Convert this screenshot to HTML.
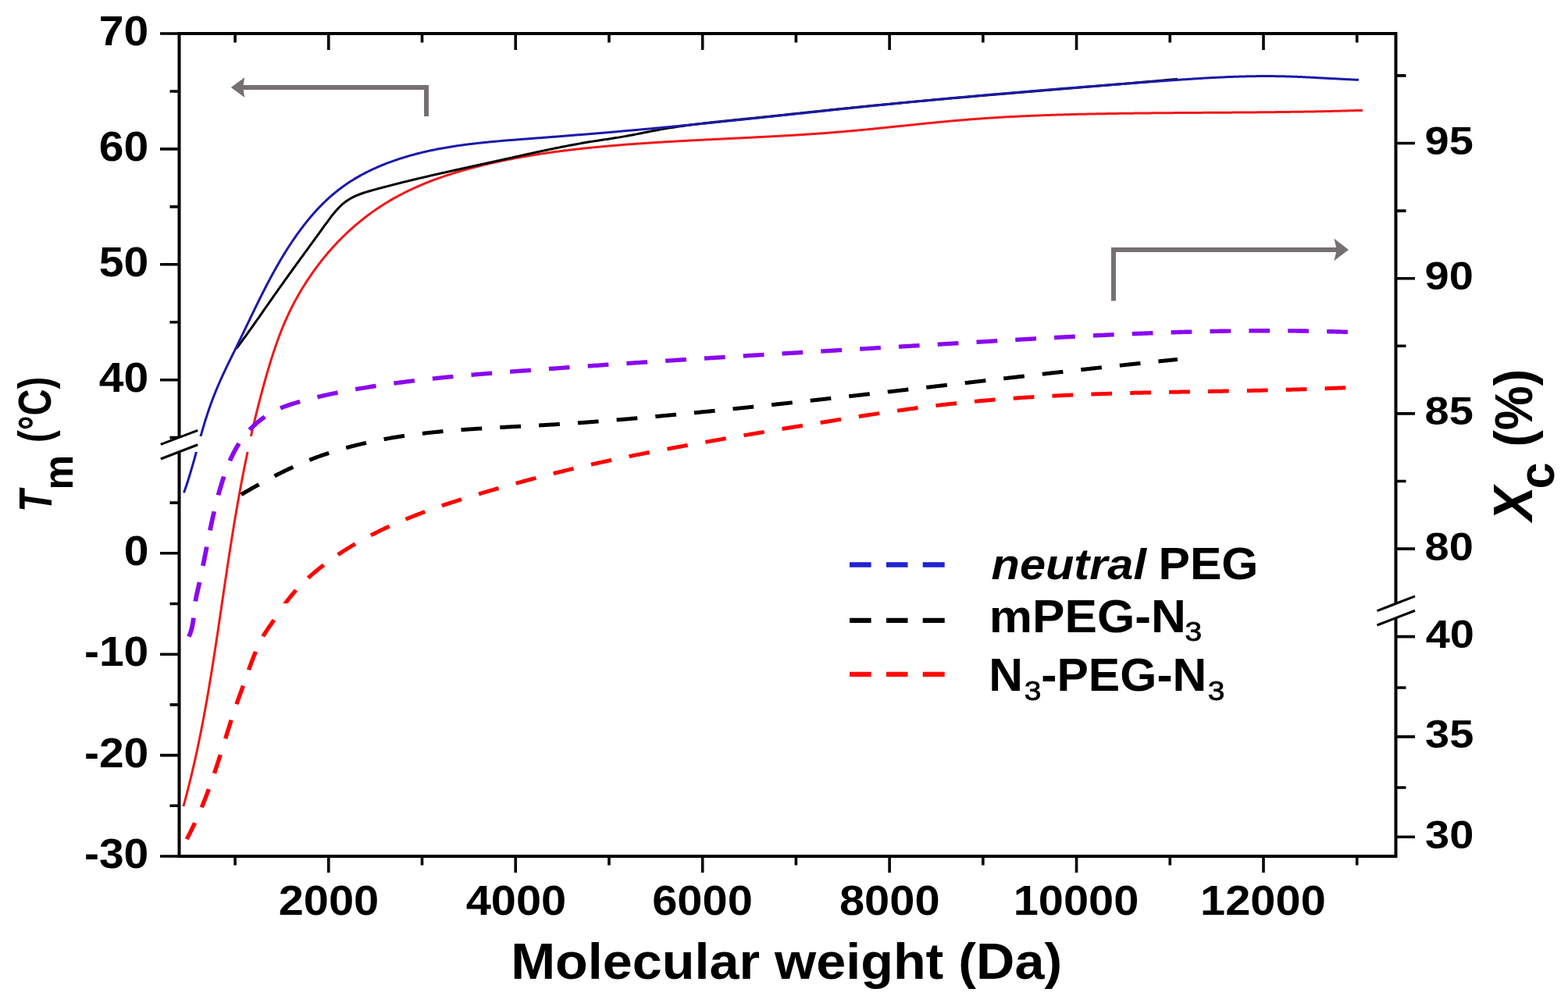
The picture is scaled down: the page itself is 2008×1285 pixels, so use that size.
<!DOCTYPE html>
<html><head><meta charset="utf-8"><title>Tm and Xc vs molecular weight</title><style>html,body{margin:0;padding:0;background:#fff;overflow:hidden;}svg{display:block;}</style></head><body>
<svg width="2008" height="1285" viewBox="0 0 2008 1285">
<rect x="0" y="0" width="2008" height="1285" fill="#fff"/>
<defs>
<clipPath id="ctm"><rect x="230.5" y="43.0" width="1556.0" height="516.0"/><rect x="230.5" y="579" width="1556.0" height="518.0"/></clipPath>
<clipPath id="cxc"><rect x="230.5" y="43.0" width="1556.0" height="730.0"/><rect x="230.5" y="791" width="1556.0" height="306.0"/></clipPath>
</defs>
<g fill="none" stroke-linejoin="round">
<g clip-path="url(#ctm)">
<path d="M234.86,1033.13 L235.27,1031.68 L235.66,1030.23 L236.06,1028.78 L236.46,1027.32 L236.85,1025.87 L237.24,1024.42 L237.63,1022.97 L238.02,1021.51 L238.40,1020.06 L238.78,1018.61 L239.16,1017.15 L239.54,1015.70 L239.92,1014.24 L240.30,1012.79 L240.67,1011.33 L241.04,1009.88 L241.41,1008.42 L241.78,1006.96 L242.14,1005.51 L242.51,1004.05 L242.87,1002.59 L243.23,1001.13 L243.59,999.68 L243.94,998.22 L244.30,996.76 L244.65,995.30 L245.00,993.84 L245.35,992.38 L245.70,990.92 L246.05,989.46 L246.39,988.00 L246.73,986.54 L247.07,985.08 L247.41,983.62 L247.75,982.16 L248.09,980.69 L248.42,979.23 L248.75,977.77 L249.08,976.31 L249.41,974.84 L249.74,973.38 L250.07,971.91 L250.39,970.45 L250.71,968.99 L251.04,967.52 L251.36,966.06 L251.67,964.59 L251.99,963.13 L252.31,961.66 L252.62,960.19 L252.93,958.73 L253.24,957.26 L253.55,955.80 L253.86,954.33 L254.17,952.86 L254.47,951.39 L254.77,949.93 L255.08,948.46 L255.38,946.99 L255.68,945.52 L255.98,944.05 L256.27,942.58 L256.57,941.11 L256.86,939.64 L257.15,938.18 L257.44,936.71 L257.73,935.23 L258.02,933.76 L258.31,932.29 L258.60,930.82 L258.88,929.35 L259.17,927.88 L259.45,926.41 L259.73,924.94 L260.01,923.47 L260.29,921.99 L260.57,920.52 L260.84,919.05 L261.12,917.58 L261.39,916.10 L261.67,914.63 L261.94,913.16 L262.21,911.68 L262.48,910.21 L262.75,908.73 L263.01,907.26 L263.28,905.79 L263.55,904.31 L263.81,902.84 L264.07,901.36 L264.34,899.89 L264.60,898.41 L264.86,896.94 L265.12,895.46 L265.37,893.98 L265.63,892.51 L265.89,891.03 L266.14,889.56 L266.40,888.08 L266.65,886.60 L266.90,885.13 L267.16,883.65 L267.41,882.17 L267.66,880.69 L267.91,879.22 L268.16,877.74 L268.40,876.26 L268.65,874.78 L268.90,873.30 L269.14,871.83 L269.38,870.35 L269.63,868.87 L269.87,867.39 L270.11,865.91 L270.35,864.43 L270.59,862.95 L270.83,861.47 L271.07,859.99 L271.31,858.52 L271.55,857.04 L271.79,855.56 L272.02,854.08 L272.26,852.60 L272.49,851.12 L272.73,849.64 L272.96,848.16 L273.20,846.67 L273.43,845.19 L273.66,843.71 L273.89,842.23 L274.12,840.75 L274.35,839.27 L274.58,837.79 L274.81,836.31 L275.04,834.83 L275.27,833.35 L275.50,831.86 L275.73,830.38 L275.95,828.90 L276.18,827.42 L276.41,825.94 L276.63,824.45 L276.86,822.97 L277.08,821.49 L277.31,820.01 L277.53,818.53 L277.75,817.04 L277.98,815.56 L278.20,814.08 L278.42,812.60 L278.65,811.11 L278.87,809.63 L279.09,808.15 L279.31,806.66 L279.53,805.18 L279.75,803.70 L279.97,802.22 L280.19,800.73 L280.41,799.25 L280.63,797.77 L280.85,796.28 L281.07,794.80 L281.29,793.32 L281.51,791.83 L281.73,790.35 L281.95,788.87 L282.17,787.38 L282.39,785.90 L282.61,784.42 L282.83,782.93 L283.04,781.45 L283.26,779.97 L283.48,778.48 L283.70,777.00 L283.92,775.51 L284.13,774.03 L284.35,772.55 L284.57,771.06 L284.79,769.58 L285.01,768.10 L285.23,766.61 L285.44,765.13 L285.66,763.64 L285.88,762.16 L286.10,760.68 L286.32,759.19 L286.54,757.71 L286.75,756.23 L286.97,754.74 L287.19,753.26 L287.41,751.77 L287.63,750.29 L287.85,748.81 L288.07,747.32 L288.29,745.84 L288.51,744.36 L288.73,742.87 L288.95,741.39 L289.17,739.90 L289.39,738.42 L289.61,736.94 L289.84,735.45 L290.06,733.97 L290.28,732.49 L290.50,731.00 L290.72,729.52 L290.95,728.04 L291.17,726.55 L291.40,725.07 L291.62,723.59 L291.84,722.10 L292.07,720.62 L292.29,719.14 L292.52,717.65 L292.75,716.17 L292.97,714.69 L293.20,713.21 L293.43,711.72 L293.66,710.24 L293.88,708.76 L294.11,707.28 L294.34,705.79 L294.57,704.31 L294.80,702.83 L295.03,701.35 L295.27,699.86 L295.50,698.38 L295.73,696.90 L295.96,695.42 L296.20,693.94 L296.43,692.45 L296.67,690.97 L296.90,689.49 L297.14,688.01 L297.38,686.53 L297.62,685.05 L297.85,683.57 L298.09,682.09 L298.33,680.60 L298.57,679.12 L298.82,677.64 L299.06,676.16 L299.30,674.68 L299.54,673.20 L299.79,671.72 L300.03,670.24 L300.28,668.76 L300.53,667.28 L300.77,665.80 L301.02,664.32 L301.27,662.84 L301.52,661.36 L301.77,659.88 L302.02,658.40 L302.28,656.93 L302.53,655.45 L302.78,653.97 L303.04,652.49 L303.29,651.01 L303.55,649.53 L303.81,648.06 L304.07,646.58 L304.33,645.10 L304.59,643.62 L304.85,642.15 L305.11,640.67 L305.37,639.19 L305.64,637.71 L305.90,636.24 L306.17,634.76 L306.44,633.29 L306.71,631.81 L306.97,630.33 L307.24,628.86 L307.52,627.38 L307.79,625.91 L308.06,624.43 L308.33,622.96 L308.61,621.48 L308.89,620.01 L309.16,618.54 L309.44,617.06 L309.72,615.59 L310.00,614.11 L310.28,612.64 L310.57,611.17 L310.85,609.70 L311.13,608.22 L311.42,606.75 L311.71,605.28 L312.00,603.81 L312.29,602.34 L312.58,600.87 L312.87,599.39 L313.16,597.92 L313.46,596.45 L313.75,594.98 L314.05,593.51 L314.35,592.04 L314.64,590.57 L314.94,589.11 L315.25,587.64 L315.55,586.17 L315.85,584.70 L316.16,583.23 L316.46,581.76 L316.77,580.30 L317.08,578.83 L317.39,577.36 L317.70,575.90 L318.01,574.43 L318.33,572.97 L318.64,571.50 L318.96,570.03 L319.28,568.57 L319.60,567.11 L319.92,565.64 L320.24,564.18 L320.57,562.71 L320.89,561.25 L321.22,559.79 L321.54,558.33 L321.87,556.86 L322.20,555.40 L322.54,553.94 L322.87,552.48 L323.20,551.02 L323.54,549.56 L323.88,548.10 L324.22,546.64 L324.56,545.18 L324.90,543.72 L325.24,542.26 L325.59,540.80 L325.93,539.34 L326.28,537.89 L326.63,536.43 L326.98,534.97 L327.34,533.52 L327.69,532.06 L328.05,530.60 L328.40,529.15 L328.76,527.69 L329.12,526.24 L329.48,524.79 L329.85,523.33 L330.21,521.88 L330.58,520.43 L330.95,518.97 L331.32,517.52 L331.69,516.07 L332.06,514.62 L332.44,513.17 L332.81,511.72 L333.19,510.27 L333.57,508.82 L333.95,507.37 L334.34,505.92 L334.72,504.47 L335.11,503.03 L335.50,501.58 L335.89,500.13 L336.28,498.69 L336.67,497.24 L337.07,495.79 L337.47,494.35 L337.86,492.91 L338.26,491.46 L338.67,490.02 L339.07,488.57 L339.48,487.13 L339.89,485.69 L340.29,484.25 L340.71,482.81 L341.12,481.37 L341.53,479.93 L341.95,478.49 L342.37,477.05 L342.79,475.61 L343.21,474.17 L343.64,472.73 L344.07,471.30 L344.49,469.86 L344.93,468.43 L345.36,466.99 L345.80,465.56 L346.24,464.12 L346.68,462.69 L347.12,461.26 L347.57,459.83 L348.02,458.40 L348.48,456.97 L348.93,455.55 L349.39,454.12 L349.85,452.70 L350.32,451.27 L350.79,449.85 L351.26,448.43 L351.74,447.01 L352.22,445.59 L352.70,444.18 L353.19,442.76 L353.68,441.35 L354.18,439.94 L354.68,438.53 L355.18,437.12 L355.69,435.71 L356.20,434.31 L356.72,432.90 L357.24,431.50 L357.76,430.10 L358.29,428.70 L358.83,427.30 L359.37,425.91 L359.91,424.52 L360.46,423.13 L361.02,421.74 L361.57,420.35 L362.14,418.97 L362.71,417.59 L363.28,416.21 L363.86,414.83 L364.45,413.45 L365.04,412.08 L365.63,410.71 L366.24,409.34 L366.85,407.97 L367.46,406.61 L368.08,405.25 L368.70,403.89 L369.34,402.54 L369.97,401.18 L370.62,399.83 L371.27,398.48 L371.93,397.14 L372.59,395.80 L373.26,394.46 L373.93,393.12 L374.62,391.79 L375.31,390.46 L376.00,389.13 L376.70,387.80 L377.41,386.48 L378.12,385.16 L378.84,383.85 L379.57,382.53 L380.30,381.22 L381.04,379.91 L381.78,378.61 L382.53,377.31 L383.28,376.01 L384.04,374.71 L384.80,373.42 L385.57,372.13 L386.35,370.84 L387.13,369.55 L387.91,368.27 L388.70,366.99 L389.50,365.72 L390.30,364.44 L391.11,363.17 L391.92,361.91 L392.73,360.64 L393.55,359.38 L394.38,358.13 L395.21,356.87 L396.04,355.62 L396.88,354.37 L397.73,353.13 L398.58,351.89 L399.43,350.65 L400.29,349.42 L401.16,348.19 L402.03,346.97 L402.91,345.74 L403.79,344.53 L404.67,343.31 L405.56,342.10 L406.46,340.90 L407.36,339.70 L408.27,338.50 L409.18,337.31 L410.10,336.12 L411.02,334.93 L411.95,333.76 L412.88,332.58 L413.82,331.41 L414.77,330.24 L415.71,329.08 L416.67,327.92 L417.63,326.77 L418.59,325.62 L419.56,324.48 L420.53,323.34 L421.51,322.20 L422.50,321.07 L423.48,319.95 L424.48,318.83 L425.48,317.71 L426.48,316.60 L427.49,315.49 L428.50,314.39 L429.52,313.29 L430.55,312.20 L431.58,311.11 L432.61,310.03 L433.65,308.95 L434.69,307.88 L435.74,306.81 L436.79,305.75 L437.85,304.69 L438.91,303.64 L439.98,302.59 L441.05,301.55 L442.13,300.51 L443.21,299.48 L444.30,298.45 L445.39,297.43 L446.48,296.41 L447.58,295.40 L448.69,294.39 L449.80,293.39 L450.91,292.40 L452.03,291.41 L453.16,290.42 L454.28,289.44 L455.42,288.47 L456.56,287.50 L457.70,286.53 L458.84,285.57 L460.00,284.62 L461.15,283.67 L462.31,282.73 L463.48,281.79 L464.64,280.86 L465.82,279.94 L467.00,279.02 L468.18,278.11 L469.37,277.20 L470.56,276.29 L471.75,275.40 L472.95,274.51 L474.16,273.62 L475.37,272.74 L476.58,271.87 L477.80,271.00 L479.02,270.14 L480.24,269.28 L481.47,268.43 L482.71,267.59 L483.95,266.75 L485.19,265.92 L486.44,265.09 L487.69,264.27 L488.94,263.46 L490.20,262.65 L491.47,261.85 L492.74,261.05 L494.01,260.26 L495.28,259.48 L496.56,258.70 L497.85,257.93 L499.13,257.16 L500.43,256.41 L501.72,255.65 L503.02,254.91 L504.32,254.16 L505.63,253.43 L506.94,252.70 L508.25,251.98 L509.57,251.26 L510.89,250.55 L512.21,249.85 L513.53,249.15 L514.86,248.46 L516.20,247.77 L517.53,247.09 L518.87,246.42 L520.21,245.75 L521.56,245.09 L522.90,244.43 L524.25,243.78 L525.61,243.14 L526.96,242.50 L528.32,241.87 L529.68,241.24 L531.04,240.62 L532.41,240.01 L533.78,239.40 L535.15,238.80 L536.52,238.20 L537.90,237.61 L539.28,237.02 L540.66,236.44 L542.04,235.86 L543.43,235.29 L544.82,234.73 L546.21,234.17 L547.60,233.61 L548.99,233.06 L550.39,232.52 L551.79,231.98 L553.19,231.45 L554.59,230.92 L555.99,230.39 L557.40,229.87 L558.81,229.36 L560.22,228.85 L561.63,228.34 L563.05,227.84 L564.46,227.34 L565.88,226.85 L567.30,226.36 L568.72,225.88 L570.14,225.40 L571.56,224.93 L572.99,224.46 L574.41,223.99 L575.84,223.53 L577.27,223.07 L578.70,222.62 L580.14,222.17 L581.57,221.72 L583.00,221.28 L584.44,220.84 L585.88,220.41 L587.31,219.98 L588.75,219.56 L590.19,219.13 L591.64,218.71 L593.08,218.30 L594.52,217.89 L595.97,217.48 L597.41,217.08 L598.86,216.67 L600.30,216.28 L601.75,215.88 L603.20,215.49 L604.65,215.10 L606.10,214.72 L607.55,214.34 L609.00,213.96 L610.45,213.58 L611.90,213.21 L613.36,212.84 L614.81,212.48 L616.27,212.11 L617.72,211.76 L619.18,211.40 L620.63,211.05 L622.09,210.70 L623.55,210.35 L625.01,210.00 L626.47,209.66 L627.93,209.33 L629.39,208.99 L630.85,208.66 L632.31,208.33 L633.78,208.00 L635.24,207.68 L636.70,207.36 L638.17,207.04 L639.63,206.73 L641.10,206.41 L642.57,206.10 L644.03,205.80 L645.50,205.49 L646.97,205.19 L648.44,204.89 L649.91,204.60 L651.38,204.30 L652.85,204.01 L654.32,203.73 L655.79,203.44 L657.26,203.16 L658.73,202.88 L660.21,202.60 L661.68,202.33 L663.15,202.05 L664.63,201.78 L666.10,201.52 L667.58,201.25 L669.05,200.99 L670.53,200.73 L672.01,200.47 L673.48,200.22 L674.96,199.96 L676.44,199.71 L677.92,199.47 L679.40,199.22 L680.88,198.98 L682.36,198.74 L683.84,198.50 L685.32,198.26 L686.80,198.03 L688.28,197.79 L689.76,197.56 L691.25,197.34 L692.73,197.11 L694.21,196.89 L695.69,196.67 L697.18,196.45 L698.66,196.23 L700.15,196.01 L701.63,195.80 L703.12,195.59 L704.60,195.38 L706.09,195.17 L707.57,194.97 L709.06,194.76 L710.55,194.56 L712.03,194.36 L713.52,194.17 L715.01,193.97 L716.50,193.78 L717.99,193.58 L719.47,193.39 L720.96,193.21 L722.45,193.02 L723.94,192.83 L725.43,192.65 L726.92,192.47 L728.41,192.29 L729.90,192.11 L731.39,191.94 L732.88,191.76 L734.37,191.59 L735.86,191.42 L737.35,191.25 L738.84,191.08 L740.34,190.91 L741.83,190.75 L743.32,190.58 L744.81,190.42 L746.30,190.26 L747.80,190.10 L749.29,189.94 L750.78,189.79 L752.27,189.63 L753.77,189.48 L755.26,189.33 L756.75,189.18 L758.24,189.03 L759.74,188.88 L761.23,188.73 L762.72,188.59 L764.22,188.44 L765.71,188.30 L767.21,188.16 L768.70,188.02 L770.19,187.88 L771.69,187.74 L773.18,187.60 L774.68,187.47 L776.17,187.33 L777.66,187.20 L779.16,187.07 L780.65,186.94 L782.15,186.81 L783.64,186.68 L785.14,186.55 L786.63,186.42 L788.13,186.30 L789.62,186.17 L791.12,186.05 L792.61,185.93 L794.11,185.81 L795.60,185.69 L797.10,185.57 L798.59,185.45 L800.09,185.33 L801.58,185.21 L803.08,185.10 L804.57,184.99 L806.07,184.87 L807.56,184.76 L809.06,184.65 L810.56,184.54 L812.05,184.43 L813.55,184.32 L815.04,184.21 L816.54,184.10 L818.04,184.00 L819.53,183.89 L821.03,183.79 L822.52,183.69 L824.02,183.58 L825.52,183.48 L827.01,183.38 L828.51,183.28 L830.01,183.18 L831.50,183.08 L833.00,182.98 L834.50,182.89 L835.99,182.79 L837.49,182.69 L838.99,182.60 L840.48,182.50 L841.98,182.41 L843.48,182.32 L844.97,182.23 L846.47,182.13 L847.97,182.04 L849.47,181.95 L850.96,181.86 L852.46,181.77 L853.96,181.68 L855.45,181.60 L856.95,181.51 L858.45,181.42 L859.95,181.34 L861.44,181.25 L862.94,181.17 L864.44,181.08 L865.94,181.00 L867.43,180.91 L868.93,180.83 L870.43,180.75 L871.93,180.66 L873.43,180.58 L874.92,180.50 L876.42,180.42 L877.92,180.34 L879.42,180.26 L880.91,180.18 L882.41,180.10 L883.91,180.02 L885.41,179.94 L886.91,179.86 L888.40,179.79 L889.90,179.71 L891.40,179.63 L892.90,179.55 L894.40,179.48 L895.89,179.40 L897.39,179.33 L898.89,179.25 L900.39,179.17 L901.89,179.10 L903.38,179.02 L904.88,178.95 L906.38,178.87 L907.88,178.80 L909.38,178.73 L910.88,178.65 L912.37,178.58 L913.87,178.50 L915.37,178.43 L916.87,178.36 L918.37,178.28 L919.86,178.21 L921.36,178.14 L922.86,178.06 L924.36,177.99 L925.86,177.92 L927.36,177.84 L928.85,177.77 L930.35,177.70 L931.85,177.62 L933.35,177.55 L934.85,177.48 L936.35,177.41 L937.84,177.33 L939.34,177.26 L940.84,177.19 L942.34,177.11 L943.84,177.04 L945.33,176.97 L946.83,176.89 L948.33,176.82 L949.83,176.75 L951.33,176.67 L952.82,176.60 L954.32,176.53 L955.82,176.45 L957.32,176.38 L958.82,176.30 L960.32,176.23 L961.81,176.15 L963.31,176.08 L964.81,176.00 L966.31,175.93 L967.80,175.85 L969.30,175.77 L970.80,175.70 L972.30,175.62 L973.80,175.54 L975.29,175.47 L976.79,175.39 L978.29,175.31 L979.79,175.23 L981.29,175.15 L982.78,175.08 L984.28,175.00 L985.78,174.92 L987.28,174.84 L988.77,174.76 L990.27,174.67 L991.77,174.59 L993.27,174.51 L994.76,174.43 L996.26,174.35 L997.76,174.26 L999.25,174.18 L1000.75,174.09 L1002.25,174.01 L1003.75,173.92 L1005.24,173.84 L1006.74,173.75 L1008.24,173.67 L1009.73,173.58 L1011.23,173.49 L1012.73,173.40 L1014.23,173.31 L1015.72,173.22 L1017.22,173.13 L1018.72,173.04 L1020.21,172.95 L1021.71,172.86 L1023.21,172.76 L1024.70,172.67 L1026.20,172.57 L1027.69,172.48 L1029.19,172.38 L1030.69,172.29 L1032.18,172.19 L1033.68,172.09 L1035.18,171.99 L1036.67,171.89 L1038.17,171.79 L1039.66,171.69 L1041.16,171.59 L1042.66,171.49 L1044.15,171.38 L1045.65,171.28 L1047.14,171.17 L1048.64,171.07 L1050.13,170.96 L1051.63,170.85 L1053.12,170.74 L1054.62,170.63 L1056.11,170.52 L1057.61,170.41 L1059.11,170.30 L1060.60,170.19 L1062.10,170.07 L1063.59,169.96 L1065.08,169.84 L1066.58,169.72 L1068.07,169.60 L1069.57,169.49 L1071.06,169.36 L1072.56,169.24 L1074.05,169.12 L1075.55,169.00 L1077.04,168.87 L1078.53,168.75 L1080.03,168.62 L1081.52,168.49 L1083.02,168.36 L1084.51,168.23 L1086.00,168.10 L1087.50,167.97 L1088.99,167.84 L1090.48,167.70 L1091.98,167.57 L1093.47,167.43 L1094.96,167.30 L1096.46,167.16 L1097.95,167.02 L1099.44,166.88 L1100.94,166.74 L1102.43,166.60 L1103.92,166.46 L1105.42,166.32 L1106.91,166.17 L1108.40,166.03 L1109.89,165.88 L1111.39,165.74 L1112.88,165.59 L1114.37,165.45 L1115.86,165.30 L1117.36,165.15 L1118.85,165.00 L1120.34,164.85 L1121.83,164.70 L1123.33,164.56 L1124.82,164.40 L1126.31,164.25 L1127.80,164.10 L1129.29,163.95 L1130.79,163.80 L1132.28,163.65 L1133.77,163.49 L1135.26,163.34 L1136.75,163.19 L1138.25,163.04 L1139.74,162.88 L1141.23,162.73 L1142.72,162.57 L1144.21,162.42 L1145.71,162.26 L1147.20,162.11 L1148.69,161.96 L1150.18,161.80 L1151.67,161.65 L1153.17,161.49 L1154.66,161.34 L1156.15,161.18 L1157.64,161.03 L1159.13,160.87 L1160.63,160.72 L1162.12,160.56 L1163.61,160.41 L1165.10,160.25 L1166.59,160.10 L1168.09,159.94 L1169.58,159.79 L1171.07,159.64 L1172.56,159.48 L1174.05,159.33 L1175.55,159.18 L1177.04,159.02 L1178.53,158.87 L1180.02,158.72 L1181.51,158.57 L1183.01,158.42 L1184.50,158.26 L1185.99,158.11 L1187.48,157.96 L1188.98,157.81 L1190.47,157.67 L1191.96,157.52 L1193.45,157.37 L1194.94,157.22 L1196.44,157.07 L1197.93,156.93 L1199.42,156.78 L1200.92,156.64 L1202.41,156.49 L1203.90,156.35 L1205.39,156.21 L1206.89,156.07 L1208.38,155.92 L1209.87,155.78 L1211.37,155.64 L1212.86,155.50 L1214.35,155.37 L1215.85,155.23 L1217.34,155.09 L1218.83,154.96 L1220.33,154.82 L1221.82,154.69 L1223.31,154.56 L1224.81,154.43 L1226.30,154.30 L1227.79,154.17 L1229.29,154.04 L1230.78,153.91 L1232.28,153.78 L1233.77,153.66 L1235.27,153.53 L1236.76,153.41 L1238.25,153.29 L1239.75,153.17 L1241.24,153.05 L1242.74,152.93 L1244.23,152.82 L1245.73,152.70 L1247.22,152.59 L1248.72,152.47 L1250.21,152.36 L1251.71,152.25 L1253.21,152.14 L1254.70,152.03 L1256.20,151.93 L1257.69,151.82 L1259.19,151.72 L1260.68,151.61 L1262.18,151.51 L1263.68,151.41 L1265.17,151.31 L1266.67,151.21 L1268.16,151.11 L1269.66,151.02 L1271.16,150.92 L1272.65,150.83 L1274.15,150.73 L1275.65,150.64 L1277.14,150.55 L1278.64,150.46 L1280.14,150.37 L1281.63,150.28 L1283.13,150.19 L1284.63,150.11 L1286.13,150.02 L1287.62,149.94 L1289.12,149.85 L1290.62,149.77 L1292.12,149.69 L1293.61,149.61 L1295.11,149.53 L1296.61,149.45 L1298.11,149.38 L1299.60,149.30 L1301.10,149.22 L1302.60,149.15 L1304.10,149.08 L1305.60,149.00 L1307.09,148.93 L1308.59,148.86 L1310.09,148.79 L1311.59,148.72 L1313.09,148.65 L1314.58,148.59 L1316.08,148.52 L1317.58,148.45 L1319.08,148.39 L1320.58,148.33 L1322.08,148.26 L1323.58,148.20 L1325.07,148.14 L1326.57,148.08 L1328.07,148.02 L1329.57,147.96 L1331.07,147.90 L1332.57,147.84 L1334.07,147.79 L1335.57,147.73 L1337.07,147.68 L1338.56,147.62 L1340.06,147.57 L1341.56,147.52 L1343.06,147.46 L1344.56,147.41 L1346.06,147.36 L1347.56,147.31 L1349.06,147.26 L1350.56,147.21 L1352.06,147.16 L1353.56,147.12 L1355.06,147.07 L1356.56,147.02 L1358.06,146.98 L1359.56,146.93 L1361.05,146.89 L1362.55,146.85 L1364.05,146.80 L1365.55,146.76 L1367.05,146.72 L1368.55,146.68 L1370.05,146.64 L1371.55,146.60 L1373.05,146.56 L1374.55,146.52 L1376.05,146.48 L1377.55,146.44 L1379.05,146.41 L1380.55,146.37 L1382.05,146.33 L1383.55,146.30 L1385.05,146.26 L1386.55,146.23 L1388.05,146.19 L1389.55,146.16 L1391.05,146.13 L1392.55,146.10 L1394.05,146.06 L1395.55,146.03 L1397.05,146.00 L1398.55,145.97 L1400.05,145.94 L1401.55,145.91 L1403.05,145.88 L1404.55,145.85 L1406.05,145.82 L1407.55,145.79 L1409.05,145.76 L1410.55,145.74 L1412.05,145.71 L1413.55,145.68 L1415.05,145.66 L1416.55,145.63 L1418.05,145.61 L1419.55,145.58 L1421.05,145.56 L1422.55,145.53 L1424.05,145.51 L1425.54,145.48 L1427.04,145.46 L1428.54,145.44 L1430.04,145.41 L1431.54,145.39 L1433.04,145.37 L1434.54,145.35 L1436.04,145.33 L1437.54,145.30 L1439.04,145.28 L1440.54,145.26 L1442.04,145.24 L1443.54,145.22 L1445.04,145.20 L1446.54,145.18 L1448.04,145.17 L1449.54,145.15 L1451.04,145.13 L1452.54,145.11 L1454.04,145.09 L1455.54,145.07 L1457.04,145.06 L1458.54,145.04 L1460.04,145.02 L1461.54,145.01 L1463.04,144.99 L1464.54,144.97 L1466.04,144.96 L1467.54,144.94 L1469.04,144.93 L1470.54,144.91 L1472.04,144.90 L1473.54,144.88 L1475.04,144.87 L1476.54,144.85 L1478.04,144.84 L1479.54,144.82 L1481.04,144.81 L1482.54,144.80 L1484.04,144.78 L1485.54,144.77 L1487.04,144.76 L1488.54,144.74 L1490.04,144.73 L1491.54,144.72 L1493.04,144.71 L1494.54,144.69 L1496.04,144.68 L1497.54,144.67 L1499.04,144.66 L1500.54,144.65 L1502.04,144.64 L1503.54,144.62 L1505.04,144.61 L1506.54,144.60 L1508.04,144.59 L1509.54,144.58 L1511.04,144.57 L1512.53,144.56 L1514.03,144.55 L1515.53,144.54 L1517.03,144.53 L1518.53,144.52 L1520.03,144.51 L1521.53,144.50 L1523.03,144.49 L1524.53,144.48 L1526.03,144.46 L1527.53,144.45 L1529.03,144.44 L1530.53,144.44 L1532.03,144.43 L1533.53,144.42 L1535.03,144.41 L1536.53,144.40 L1538.03,144.39 L1539.53,144.38 L1541.03,144.37 L1542.53,144.36 L1544.03,144.35 L1545.53,144.34 L1547.03,144.33 L1548.53,144.32 L1550.03,144.31 L1551.53,144.30 L1553.03,144.29 L1554.53,144.28 L1556.03,144.27 L1557.53,144.26 L1559.03,144.25 L1560.53,144.24 L1562.03,144.23 L1563.53,144.22 L1565.03,144.21 L1566.53,144.20 L1568.03,144.19 L1569.53,144.18 L1571.03,144.17 L1572.53,144.16 L1574.03,144.15 L1575.53,144.14 L1577.03,144.13 L1578.53,144.12 L1580.03,144.11 L1581.53,144.10 L1583.03,144.08 L1584.53,144.07 L1586.03,144.06 L1587.53,144.05 L1589.03,144.04 L1590.53,144.03 L1592.03,144.02 L1593.53,144.00 L1595.02,143.99 L1596.52,143.98 L1598.02,143.97 L1599.52,143.95 L1601.02,143.94 L1602.52,143.93 L1604.02,143.92 L1605.52,143.90 L1607.02,143.89 L1608.52,143.88 L1610.02,143.86 L1611.52,143.85 L1613.02,143.84 L1614.52,143.82 L1616.02,143.81 L1617.52,143.79 L1619.02,143.78 L1620.52,143.76 L1622.02,143.75 L1623.52,143.73 L1625.02,143.72 L1626.52,143.70 L1628.02,143.68 L1629.52,143.67 L1631.02,143.65 L1632.52,143.63 L1634.02,143.62 L1635.52,143.60 L1637.02,143.58 L1638.52,143.56 L1640.02,143.54 L1641.52,143.53 L1643.02,143.51 L1644.52,143.49 L1646.02,143.47 L1647.52,143.45 L1649.02,143.43 L1650.52,143.41 L1652.02,143.39 L1653.52,143.37 L1655.02,143.35 L1656.52,143.32 L1658.02,143.30 L1659.52,143.28 L1661.02,143.26 L1662.52,143.23 L1664.02,143.21 L1665.52,143.19 L1667.02,143.16 L1668.52,143.14 L1670.01,143.12 L1671.51,143.09 L1673.01,143.06 L1674.51,143.04 L1676.01,143.01 L1677.51,142.99 L1679.01,142.96 L1680.51,142.93 L1682.01,142.90 L1683.51,142.88 L1685.01,142.85 L1686.51,142.82 L1688.01,142.79 L1689.51,142.76 L1691.01,142.73 L1692.51,142.70 L1694.01,142.67 L1695.51,142.64 L1697.01,142.61 L1698.51,142.57 L1700.01,142.54 L1701.51,142.51 L1703.01,142.47 L1704.51,142.44 L1706.01,142.40 L1707.51,142.37 L1709.01,142.33 L1710.51,142.30 L1712.01,142.26 L1713.51,142.22 L1715.01,142.19 L1716.51,142.15 L1718.01,142.11 L1719.51,142.07 L1721.01,142.03 L1722.51,141.99 L1724.01,141.95 L1725.51,141.91 L1727.01,141.87 L1728.51,141.83 L1730.01,141.78 L1731.51,141.74 L1733.01,141.70 L1734.51,141.65 L1736.00,141.61 L1737.50,141.56 L1739.00,141.52 L1740.50,141.47 L1742.00,141.42 L1743.50,141.38 L1745.00,141.33" stroke="#f01818" stroke-width="3"/>
<path d="M302.72,445.71 L303.61,444.52 L304.50,443.33 L305.38,442.14 L306.27,440.95 L307.15,439.75 L308.04,438.55 L308.92,437.36 L309.80,436.15 L310.68,434.95 L311.56,433.74 L312.44,432.54 L313.32,431.33 L314.19,430.12 L315.07,428.91 L315.94,427.69 L316.82,426.48 L317.69,425.26 L318.56,424.04 L319.43,422.82 L320.30,421.60 L321.17,420.38 L322.04,419.16 L322.91,417.94 L323.78,416.71 L324.64,415.49 L325.51,414.26 L326.38,413.03 L327.24,411.80 L328.11,410.57 L328.97,409.34 L329.83,408.11 L330.70,406.88 L331.56,405.65 L332.42,404.42 L333.28,403.19 L334.15,401.96 L335.01,400.72 L335.87,399.49 L336.73,398.26 L337.59,397.02 L338.45,395.79 L339.31,394.56 L340.17,393.32 L341.03,392.09 L341.89,390.86 L342.75,389.62 L343.61,388.39 L344.47,387.16 L345.33,385.93 L346.19,384.70 L347.05,383.47 L347.91,382.24 L348.77,381.01 L349.64,379.78 L350.50,378.55 L351.36,377.32 L352.22,376.09 L353.08,374.87 L353.94,373.64 L354.81,372.42 L355.67,371.20 L356.53,369.98 L357.39,368.76 L358.26,367.54 L359.12,366.32 L359.99,365.10 L360.85,363.88 L361.72,362.67 L362.58,361.45 L363.45,360.24 L364.32,359.03 L365.19,357.81 L366.05,356.60 L366.92,355.39 L367.79,354.18 L368.66,352.97 L369.53,351.76 L370.40,350.55 L371.27,349.34 L372.14,348.13 L373.01,346.93 L373.88,345.72 L374.75,344.51 L375.62,343.30 L376.50,342.10 L377.37,340.89 L378.24,339.68 L379.12,338.48 L379.99,337.27 L380.87,336.06 L381.74,334.86 L382.62,333.65 L383.50,332.44 L384.37,331.24 L385.25,330.03 L386.13,328.82 L387.01,327.61 L387.88,326.41 L388.76,325.20 L389.64,323.99 L390.52,322.78 L391.40,321.57 L392.28,320.36 L393.17,319.15 L394.05,317.94 L394.93,316.72 L395.81,315.51 L396.70,314.30 L397.58,313.08 L398.47,311.87 L399.35,310.65 L400.24,309.44 L401.12,308.22 L402.01,307.00 L402.90,305.78 L403.78,304.56 L404.67,303.34 L405.56,302.11 L406.45,300.89 L407.34,299.67 L408.23,298.44 L409.12,297.21 L410.01,295.98 L410.90,294.75 L411.80,293.52 L412.69,292.29 L413.58,291.05 L414.48,289.82 L415.37,288.58 L416.27,287.34 L417.16,286.10 L418.06,284.86 L418.96,283.62 L419.86,282.38 L420.77,281.15 L421.68,279.92 L422.59,278.70 L423.51,277.48 L424.44,276.27 L425.37,275.07 L426.31,273.88 L427.26,272.70 L428.22,271.54 L429.19,270.39 L430.17,269.25 L431.16,268.13 L432.17,267.03 L433.18,265.94 L434.21,264.88 L435.25,263.83 L436.31,262.81 L437.38,261.81 L438.47,260.83 L439.57,259.88 L440.70,258.96 L441.84,258.06 L443.00,257.19 L444.17,256.35 L445.37,255.55 L446.59,254.77 L447.83,254.02 L449.08,253.29 L450.35,252.60 L451.64,251.93 L452.94,251.28 L454.26,250.66 L455.59,250.05 L456.94,249.47 L458.29,248.91 L459.66,248.37 L461.04,247.84 L462.43,247.33 L463.83,246.84 L465.24,246.36 L466.65,245.89 L468.08,245.44 L469.51,244.99 L470.94,244.56 L472.38,244.13 L473.83,243.71 L475.27,243.30 L476.72,242.89 L478.17,242.49 L479.63,242.09 L481.08,241.70 L482.54,241.30 L483.99,240.91 L485.44,240.51 L486.90,240.12 L488.35,239.73 L489.81,239.35 L491.26,238.96 L492.72,238.57 L494.17,238.19 L495.63,237.81 L497.08,237.43 L498.54,237.05 L500.00,236.68 L501.45,236.30 L502.91,235.93 L504.37,235.55 L505.82,235.18 L507.28,234.81 L508.74,234.44 L510.19,234.08 L511.65,233.71 L513.11,233.35 L514.57,232.98 L516.02,232.62 L517.48,232.26 L518.94,231.90 L520.40,231.54 L521.86,231.19 L523.32,230.83 L524.77,230.48 L526.23,230.12 L527.69,229.77 L529.15,229.42 L530.61,229.07 L532.07,228.72 L533.53,228.37 L534.99,228.02 L536.45,227.68 L537.91,227.33 L539.37,226.99 L540.83,226.64 L542.29,226.30 L543.75,225.96 L545.21,225.62 L546.67,225.28 L548.13,224.94 L549.59,224.60 L551.05,224.26 L552.51,223.93 L553.97,223.59 L555.43,223.26 L556.89,222.92 L558.36,222.59 L559.82,222.26 L561.28,221.92 L562.74,221.59 L564.20,221.26 L565.66,220.93 L567.12,220.60 L568.59,220.27 L570.05,219.94 L571.51,219.62 L572.97,219.29 L574.43,218.96 L575.90,218.64 L577.36,218.31 L578.82,217.98 L580.28,217.66 L581.74,217.33 L583.21,217.01 L584.67,216.69 L586.13,216.36 L587.59,216.04 L589.06,215.72 L590.52,215.39 L591.98,215.07 L593.44,214.75 L594.91,214.43 L596.37,214.11 L597.83,213.78 L599.29,213.46 L600.76,213.14 L602.22,212.82 L603.68,212.50 L605.14,212.18 L606.61,211.86 L608.07,211.54 L609.53,211.22 L610.99,210.90 L612.46,210.58 L613.92,210.26 L615.38,209.94 L616.84,209.62 L618.31,209.30 L619.77,208.98 L621.23,208.66 L622.70,208.33 L624.16,208.01 L625.62,207.69 L627.08,207.37 L628.55,207.05 L630.01,206.73 L631.47,206.41 L632.93,206.08 L634.40,205.76 L635.86,205.44 L637.32,205.12 L638.78,204.79 L640.24,204.47 L641.71,204.15 L643.17,203.82 L644.63,203.50 L646.09,203.17 L647.56,202.85 L649.02,202.52 L650.48,202.20 L651.94,201.87 L653.40,201.55 L654.87,201.22 L656.33,200.89 L657.79,200.57 L659.25,200.24 L660.71,199.92 L662.18,199.59 L663.64,199.27 L665.10,198.94 L666.56,198.62 L668.03,198.29 L669.49,197.97 L670.95,197.65 L672.41,197.32 L673.88,197.00 L675.34,196.68 L676.80,196.36 L678.27,196.03 L679.73,195.71 L681.19,195.39 L682.66,195.07 L684.12,194.75 L685.59,194.44 L687.05,194.12 L688.51,193.80 L689.98,193.49 L691.44,193.17 L692.91,192.86 L694.37,192.54 L695.84,192.23 L697.30,191.92 L698.77,191.61 L700.24,191.30 L701.70,190.99 L703.17,190.69 L704.64,190.38 L706.10,190.08 L707.57,189.77 L709.04,189.47 L710.51,189.17 L711.97,188.87 L713.44,188.57 L714.91,188.28 L716.38,187.98 L717.85,187.69 L719.32,187.40 L720.79,187.11 L722.26,186.82 L723.73,186.53 L725.20,186.24 L726.67,185.96 L728.14,185.68 L729.62,185.40 L731.09,185.12 L732.56,184.84 L734.03,184.57 L735.51,184.30 L736.98,184.02 L738.46,183.76 L739.93,183.49 L741.41,183.22 L742.88,182.96 L744.36,182.70 L745.83,182.44 L747.31,182.19 L748.79,181.93 L750.27,181.68 L751.75,181.43 L753.22,181.18 L754.70,180.94 L756.18,180.70 L757.66,180.46 L759.14,180.22 L760.63,179.99 L762.11,179.75 L763.59,179.52 L765.07,179.30 L766.56,179.07 L768.04,178.84 L769.52,178.62 L771.01,178.40 L772.49,178.17 L773.97,177.95 L775.46,177.73 L776.94,177.51 L778.42,177.29 L779.91,177.06 L781.39,176.84 L782.87,176.61 L784.35,176.39 L785.83,176.16 L787.31,175.93 L788.79,175.70 L790.27,175.46 L791.75,175.22 L793.23,174.98 L794.70,174.74 L796.18,174.49 L797.65,174.24 L799.13,173.99 L800.60,173.73 L802.07,173.46 L803.54,173.20 L805.01,172.93 L806.48,172.65 L807.95,172.37 L809.41,172.09 L810.88,171.81 L812.34,171.52 L813.81,171.24 L815.27,170.95 L816.73,170.66 L818.19,170.37 L819.66,170.07 L821.12,169.78 L822.58,169.49 L824.04,169.19 L825.50,168.90 L826.96,168.61 L828.42,168.31 L829.89,168.02 L831.35,167.73 L832.81,167.45 L834.27,167.16 L835.73,166.88 L837.20,166.60 L838.66,166.32 L840.12,166.04 L841.59,165.77 L843.06,165.50 L844.52,165.23 L845.99,164.97 L847.46,164.71 L848.93,164.46 L850.40,164.20 L851.87,163.95 L853.34,163.71 L854.81,163.46 L856.28,163.22 L857.76,162.99 L859.23,162.75 L860.70,162.52 L862.18,162.29 L863.65,162.06 L865.13,161.84 L866.61,161.61 L868.08,161.40 L869.56,161.18 L871.04,160.96 L872.52,160.75 L874.00,160.54 L875.48,160.34 L876.96,160.13 L878.44,159.93 L879.92,159.73 L881.41,159.53 L882.89,159.33 L884.37,159.14 L885.86,158.95 L887.34,158.76 L888.83,158.57 L890.31,158.38 L891.80,158.20 L893.28,158.01 L894.77,157.83 L896.26,157.65 L897.74,157.48 L899.23,157.30 L900.72,157.12 L902.21,156.95 L903.69,156.78 L905.18,156.61 L906.67,156.44 L908.16,156.27 L909.65,156.10 L911.14,155.94 L912.63,155.77 L914.12,155.61 L915.61,155.45 L917.10,155.29 L918.59,155.13 L920.08,154.97 L921.58,154.81 L923.07,154.65 L924.56,154.50 L926.05,154.34 L927.54,154.18 L929.04,154.03 L930.53,153.88 L932.02,153.72 L933.51,153.57 L935.01,153.42 L936.50,153.26 L937.99,153.11 L939.48,152.96 L940.98,152.81 L942.47,152.66 L943.96,152.51 L945.46,152.36 L946.95,152.21 L948.44,152.06 L949.94,151.91 L951.43,151.76 L952.92,151.61 L954.41,151.45 L955.91,151.30 L957.40,151.15 L958.89,151.00 L960.39,150.85 L961.88,150.70 L963.37,150.54 L964.86,150.39 L966.36,150.24 L967.85,150.08 L969.34,149.93 L970.83,149.78 L972.32,149.62 L973.81,149.47 L975.31,149.31 L976.80,149.16 L978.29,149.00 L979.78,148.85 L981.27,148.69 L982.76,148.53 L984.26,148.38 L985.75,148.22 L987.24,148.06 L988.73,147.91 L990.22,147.75 L991.71,147.59 L993.20,147.43 L994.69,147.27 L996.18,147.12 L997.67,146.96 L999.16,146.80 L1000.65,146.64 L1002.14,146.48 L1003.63,146.32 L1005.13,146.16 L1006.62,146.01 L1008.11,145.85 L1009.60,145.69 L1011.09,145.53 L1012.58,145.37 L1014.07,145.21 L1015.56,145.05 L1017.05,144.89 L1018.54,144.73 L1020.03,144.57 L1021.52,144.41 L1023.01,144.25 L1024.50,144.09 L1025.99,143.93 L1027.48,143.77 L1028.97,143.61 L1030.46,143.45 L1031.94,143.29 L1033.43,143.13 L1034.92,142.97 L1036.41,142.81 L1037.90,142.65 L1039.39,142.49 L1040.88,142.34 L1042.37,142.18 L1043.86,142.02 L1045.35,141.86 L1046.84,141.70 L1048.33,141.54 L1049.82,141.38 L1051.31,141.22 L1052.80,141.07 L1054.29,140.91 L1055.78,140.75 L1057.27,140.59 L1058.76,140.43 L1060.25,140.28 L1061.74,140.12 L1063.23,139.96 L1064.72,139.81 L1066.21,139.65 L1067.70,139.49 L1069.19,139.34 L1070.68,139.18 L1072.17,139.03 L1073.66,138.87 L1075.15,138.72 L1076.64,138.56 L1078.13,138.41 L1079.62,138.25 L1081.11,138.10 L1082.60,137.95 L1084.09,137.79 L1085.58,137.64 L1087.07,137.49 L1088.56,137.33 L1090.05,137.18 L1091.54,137.03 L1093.03,136.88 L1094.52,136.73 L1096.01,136.58 L1097.50,136.43 L1098.99,136.28 L1100.48,136.13 L1101.97,135.98 L1103.46,135.83 L1104.96,135.68 L1106.45,135.53 L1107.94,135.38 L1109.43,135.23 L1110.92,135.09 L1112.41,134.94 L1113.90,134.79 L1115.39,134.65 L1116.88,134.50 L1118.37,134.35 L1119.86,134.21 L1121.36,134.06 L1122.85,133.91 L1124.34,133.77 L1125.83,133.62 L1127.32,133.48 L1128.81,133.33 L1130.30,133.19 L1131.79,133.05 L1133.29,132.90 L1134.78,132.76 L1136.27,132.62 L1137.76,132.47 L1139.25,132.33 L1140.74,132.19 L1142.24,132.05 L1143.73,131.90 L1145.22,131.76 L1146.71,131.62 L1148.20,131.48 L1149.69,131.34 L1151.19,131.20 L1152.68,131.06 L1154.17,130.92 L1155.66,130.78 L1157.15,130.64 L1158.64,130.50 L1160.14,130.36 L1161.63,130.22 L1163.12,130.08 L1164.61,129.94 L1166.10,129.80 L1167.60,129.66 L1169.09,129.52 L1170.58,129.39 L1172.07,129.25 L1173.57,129.11 L1175.06,128.97 L1176.55,128.84 L1178.04,128.70 L1179.53,128.56 L1181.03,128.43 L1182.52,128.29 L1184.01,128.16 L1185.50,128.02 L1187.00,127.88 L1188.49,127.75 L1189.98,127.61 L1191.47,127.48 L1192.97,127.34 L1194.46,127.21 L1195.95,127.07 L1197.44,126.94 L1198.94,126.81 L1200.43,126.67 L1201.92,126.54 L1203.41,126.40 L1204.91,126.27 L1206.40,126.14 L1207.89,126.00 L1209.38,125.87 L1210.88,125.74 L1212.37,125.61 L1213.86,125.47 L1215.36,125.34 L1216.85,125.21 L1218.34,125.08 L1219.83,124.94 L1221.33,124.81 L1222.82,124.68 L1224.31,124.55 L1225.81,124.42 L1227.30,124.29 L1228.79,124.16 L1230.28,124.03 L1231.78,123.90 L1233.27,123.77 L1234.76,123.63 L1236.26,123.50 L1237.75,123.37 L1239.24,123.24 L1240.74,123.12 L1242.23,122.99 L1243.72,122.86 L1245.22,122.73 L1246.71,122.60 L1248.20,122.47 L1249.69,122.34 L1251.19,122.21 L1252.68,122.08 L1254.17,121.95 L1255.67,121.82 L1257.16,121.70 L1258.65,121.57 L1260.15,121.44 L1261.64,121.31 L1263.13,121.18 L1264.63,121.06 L1266.12,120.93 L1267.61,120.80 L1269.11,120.67 L1270.60,120.54 L1272.09,120.42 L1273.59,120.29 L1275.08,120.16 L1276.57,120.04 L1278.07,119.91 L1279.56,119.78 L1281.05,119.66 L1282.55,119.53 L1284.04,119.40 L1285.53,119.28 L1287.03,119.15 L1288.52,119.02 L1290.01,118.90 L1291.51,118.77 L1293.00,118.64 L1294.50,118.52 L1295.99,118.39 L1297.48,118.27 L1298.98,118.14 L1300.47,118.01 L1301.96,117.89 L1303.46,117.76 L1304.95,117.64 L1306.44,117.51 L1307.94,117.39 L1309.43,117.26 L1310.92,117.14 L1312.42,117.01 L1313.91,116.88 L1315.40,116.76 L1316.90,116.63 L1318.39,116.51 L1319.88,116.38 L1321.38,116.26 L1322.87,116.13 L1324.37,116.01 L1325.86,115.88 L1327.35,115.76 L1328.85,115.63 L1330.34,115.51 L1331.83,115.38 L1333.33,115.26 L1334.82,115.13 L1336.31,115.01 L1337.81,114.88 L1339.30,114.76 L1340.79,114.64 L1342.29,114.51 L1343.78,114.39 L1345.28,114.26 L1346.77,114.14 L1348.26,114.01 L1349.76,113.89 L1351.25,113.76 L1352.74,113.64 L1354.24,113.51 L1355.73,113.39 L1357.22,113.26 L1358.72,113.14 L1360.21,113.02 L1361.70,112.89 L1363.20,112.77 L1364.69,112.64 L1366.18,112.52 L1367.68,112.39 L1369.17,112.27 L1370.66,112.14 L1372.16,112.02 L1373.65,111.89 L1375.15,111.77 L1376.64,111.64 L1378.13,111.52 L1379.63,111.39 L1381.12,111.27 L1382.61,111.14 L1384.11,111.02 L1385.60,110.90 L1387.09,110.77 L1388.59,110.65 L1390.08,110.52 L1391.57,110.40 L1393.07,110.27 L1394.56,110.14 L1396.05,110.02 L1397.55,109.89 L1399.04,109.77 L1400.53,109.64 L1402.03,109.52 L1403.52,109.39 L1405.01,109.27 L1406.51,109.14 L1408.00,109.02 L1409.49,108.89 L1410.99,108.77 L1412.48,108.64 L1413.97,108.51 L1415.46,108.39 L1416.96,108.26 L1418.45,108.14 L1419.94,108.01 L1421.44,107.88 L1422.93,107.76 L1424.42,107.63 L1425.92,107.50 L1427.41,107.38 L1428.90,107.25 L1430.40,107.12 L1431.89,107.00 L1433.38,106.87 L1434.88,106.74 L1436.37,106.62 L1437.86,106.49 L1439.35,106.36 L1440.85,106.24 L1442.34,106.11 L1443.83,105.98 L1445.33,105.85 L1446.82,105.73 L1448.31,105.60 L1449.80,105.47 L1451.30,105.34 L1452.79,105.21 L1454.28,105.09 L1455.78,104.96 L1457.27,104.83 L1458.76,104.70 L1460.25,104.57 L1461.75,104.44 L1463.24,104.31 L1464.73,104.18 L1466.22,104.06 L1467.72,103.93 L1469.21,103.80 L1470.70,103.67 L1472.19,103.54 L1473.69,103.41 L1475.18,103.28 L1476.67,103.15 L1478.16,103.02 L1479.66,102.89 L1481.15,102.76 L1482.64,102.63 L1484.13,102.50 L1485.63,102.36 L1487.12,102.23 L1488.61,102.10 L1490.10,101.97 L1491.59,101.84 L1493.09,101.71 L1494.58,101.58 L1496.07,101.44 L1497.56,101.31 L1499.06,101.18 L1500.55,101.05 L1502.04,100.91 L1503.53,100.78 L1505.02,100.65 L1506.52,100.52 L1508.01,100.38" stroke="#000" stroke-width="3" transform="translate(0,0.9)"/>
<path d="M235.48,631.22 L235.98,629.82 L236.48,628.42 L236.98,627.01 L237.46,625.60 L237.95,624.19 L238.42,622.77 L238.90,621.36 L239.37,619.94 L239.83,618.52 L240.29,617.10 L240.75,615.68 L241.20,614.25 L241.65,612.83 L242.10,611.40 L242.54,609.97 L242.98,608.54 L243.41,607.10 L243.84,605.67 L244.27,604.23 L244.70,602.80 L245.12,601.36 L245.54,599.92 L245.96,598.48 L246.38,597.04 L246.79,595.59 L247.20,594.15 L247.61,592.71 L248.02,591.26 L248.43,589.82 L248.84,588.37 L249.24,586.92 L249.64,585.48 L250.05,584.03 L250.45,582.58 L250.85,581.13 L251.25,579.68 L251.65,578.23 L252.05,576.78 L252.45,575.33 L252.85,573.88 L253.25,572.43 L253.65,570.98 L254.05,569.53 L254.45,568.08 L254.85,566.64 L255.25,565.19 L255.65,563.74 L256.06,562.29 L256.46,560.84 L256.87,559.40 L257.28,557.95 L257.69,556.50 L258.10,555.06 L258.52,553.61 L258.93,552.17 L259.35,550.73 L259.77,549.29 L260.19,547.85 L260.62,546.41 L261.05,544.97 L261.48,543.53 L261.91,542.10 L262.35,540.66 L262.79,539.23 L263.23,537.80 L263.68,536.37 L264.13,534.94 L264.59,533.51 L265.05,532.09 L265.51,530.66 L265.98,529.24 L266.45,527.82 L266.93,526.40 L267.41,524.99 L267.90,523.58 L268.39,522.16 L268.89,520.75 L269.39,519.35 L269.89,517.94 L270.40,516.54 L270.92,515.14 L271.44,513.74 L271.96,512.34 L272.49,510.94 L273.03,509.55 L273.56,508.16 L274.11,506.77 L274.65,505.38 L275.21,504.00 L275.76,502.61 L276.32,501.23 L276.89,499.85 L277.46,498.47 L278.03,497.10 L278.61,495.72 L279.19,494.35 L279.78,492.98 L280.37,491.61 L280.96,490.24 L281.56,488.88 L282.17,487.51 L282.77,486.15 L283.38,484.79 L284.00,483.43 L284.62,482.08 L285.24,480.72 L285.87,479.37 L286.50,478.02 L287.13,476.67 L287.77,475.32 L288.40,473.97 L289.04,472.62 L289.69,471.27 L290.33,469.93 L290.98,468.58 L291.63,467.24 L292.28,465.90 L292.94,464.55 L293.59,463.21 L294.25,461.87 L294.91,460.53 L295.57,459.18 L296.23,457.84 L296.89,456.50 L297.55,455.16 L298.21,453.82 L298.87,452.48 L299.53,451.13 L300.19,449.79 L300.85,448.45 L301.51,447.10 L302.17,445.76 L302.83,444.41 L303.49,443.06 L304.14,441.72 L304.80,440.37 L305.45,439.02 L306.11,437.67 L306.76,436.32 L307.42,434.97 L308.07,433.62 L308.72,432.27 L309.37,430.91 L310.02,429.56 L310.67,428.21 L311.32,426.85 L311.97,425.50 L312.62,424.15 L313.27,422.79 L313.92,421.44 L314.57,420.08 L315.22,418.72 L315.87,417.37 L316.52,416.01 L317.17,414.66 L317.82,413.30 L318.47,411.95 L319.12,410.59 L319.77,409.23 L320.42,407.88 L321.08,406.52 L321.73,405.17 L322.38,403.81 L323.03,402.46 L323.69,401.10 L324.34,399.75 L325.00,398.40 L325.65,397.04 L326.31,395.69 L326.97,394.34 L327.63,392.99 L328.29,391.64 L328.95,390.28 L329.61,388.93 L330.28,387.59 L330.94,386.24 L331.61,384.89 L332.28,383.54 L332.94,382.20 L333.62,380.85 L334.29,379.51 L334.96,378.16 L335.64,376.82 L336.31,375.48 L336.99,374.14 L337.67,372.80 L338.35,371.46 L339.04,370.12 L339.72,368.79 L340.41,367.45 L341.10,366.12 L341.79,364.79 L342.49,363.46 L343.18,362.13 L343.88,360.80 L344.58,359.47 L345.29,358.15 L345.99,356.83 L346.70,355.50 L347.41,354.18 L348.12,352.86 L348.84,351.55 L349.56,350.23 L350.28,348.92 L351.00,347.61 L351.73,346.30 L352.46,344.99 L353.19,343.68 L353.93,342.38 L354.67,341.08 L355.41,339.78 L356.15,338.48 L356.90,337.18 L357.65,335.89 L358.41,334.60 L359.17,333.31 L359.93,332.02 L360.69,330.74 L361.46,329.46 L362.23,328.18 L363.01,326.90 L363.79,325.62 L364.57,324.35 L365.36,323.08 L366.15,321.81 L366.94,320.55 L367.74,319.28 L368.54,318.02 L369.35,316.77 L370.16,315.51 L370.97,314.26 L371.79,313.01 L372.61,311.76 L373.44,310.52 L374.27,309.28 L375.11,308.04 L375.95,306.81 L376.79,305.58 L377.64,304.35 L378.49,303.12 L379.35,301.90 L380.22,300.68 L381.08,299.47 L381.96,298.26 L382.83,297.05 L383.72,295.84 L384.60,294.64 L385.50,293.44 L386.40,292.24 L387.30,291.05 L388.21,289.86 L389.12,288.68 L390.04,287.50 L390.96,286.32 L391.89,285.15 L392.83,283.98 L393.77,282.81 L394.71,281.65 L395.66,280.49 L396.62,279.34 L397.58,278.20 L398.55,277.05 L399.53,275.92 L400.51,274.78 L401.49,273.66 L402.49,272.54 L403.49,271.42 L404.49,270.31 L405.50,269.21 L406.52,268.11 L407.54,267.01 L408.57,265.93 L409.61,264.85 L410.65,263.77 L411.70,262.71 L412.76,261.65 L413.82,260.59 L414.89,259.54 L415.97,258.50 L417.05,257.47 L418.14,256.44 L419.24,255.43 L420.34,254.41 L421.45,253.41 L422.56,252.41 L423.68,251.42 L424.81,250.44 L425.95,249.47 L427.09,248.50 L428.24,247.55 L429.39,246.60 L430.55,245.65 L431.72,244.72 L432.89,243.80 L434.07,242.88 L435.25,241.97 L436.45,241.07 L437.65,240.18 L438.85,239.30 L440.06,238.42 L441.28,237.56 L442.50,236.70 L443.73,235.86 L444.97,235.02 L446.21,234.19 L447.45,233.37 L448.71,232.56 L449.96,231.75 L451.23,230.96 L452.50,230.17 L453.77,229.39 L455.05,228.62 L456.34,227.86 L457.63,227.11 L458.92,226.36 L460.22,225.62 L461.53,224.89 L462.84,224.17 L464.15,223.46 L465.47,222.76 L466.80,222.06 L468.12,221.37 L469.46,220.69 L470.79,220.01 L472.14,219.35 L473.48,218.69 L474.83,218.04 L476.18,217.40 L477.54,216.76 L478.90,216.13 L480.27,215.51 L481.64,214.90 L483.01,214.29 L484.38,213.69 L485.76,213.10 L487.15,212.52 L488.53,211.94 L489.92,211.37 L491.31,210.81 L492.71,210.25 L494.11,209.70 L495.51,209.16 L496.91,208.63 L498.32,208.10 L499.72,207.58 L501.13,207.06 L502.55,206.55 L503.96,206.05 L505.38,205.55 L506.80,205.06 L508.22,204.58 L509.65,204.11 L511.08,203.64 L512.50,203.17 L513.93,202.71 L515.36,202.26 L516.80,201.82 L518.23,201.38 L519.67,200.95 L521.11,200.52 L522.54,200.10 L523.98,199.68 L525.42,199.27 L526.87,198.87 L528.31,198.47 L529.76,198.08 L531.20,197.69 L532.65,197.31 L534.10,196.94 L535.55,196.57 L537.00,196.20 L538.45,195.84 L539.90,195.49 L541.36,195.14 L542.81,194.79 L544.27,194.46 L545.73,194.12 L547.19,193.79 L548.65,193.47 L550.11,193.15 L551.57,192.84 L553.03,192.53 L554.50,192.22 L555.96,191.92 L557.43,191.63 L558.89,191.33 L560.36,191.05 L561.83,190.77 L563.30,190.49 L564.77,190.21 L566.24,189.94 L567.71,189.68 L569.19,189.42 L570.66,189.16 L572.13,188.91 L573.61,188.66 L575.09,188.41 L576.56,188.17 L578.04,187.93 L579.52,187.70 L581.00,187.47 L582.48,187.24 L583.96,187.02 L585.44,186.80 L586.93,186.59 L588.41,186.37 L589.89,186.16 L591.38,185.96 L592.86,185.75 L594.35,185.55 L595.83,185.36 L597.32,185.16 L598.81,184.97 L600.30,184.79 L601.79,184.60 L603.27,184.42 L604.76,184.24 L606.25,184.06 L607.75,183.89 L609.24,183.72 L610.73,183.55 L612.22,183.38 L613.71,183.22 L615.21,183.06 L616.70,182.90 L618.19,182.74 L619.69,182.59 L621.18,182.43 L622.68,182.28 L624.17,182.14 L625.67,181.99 L627.17,181.84 L628.66,181.70 L630.16,181.56 L631.66,181.42 L633.15,181.28 L634.65,181.15 L636.15,181.01 L637.65,180.88 L639.15,180.75 L640.64,180.62 L642.14,180.49 L643.64,180.36 L645.14,180.24 L646.64,180.11 L648.14,179.99 L649.64,179.87 L651.14,179.74 L652.64,179.62 L654.14,179.50 L655.64,179.38 L657.14,179.27 L658.64,179.15 L660.14,179.03 L661.64,178.91 L663.14,178.80 L664.64,178.68 L666.14,178.57 L667.64,178.45 L669.14,178.34 L670.64,178.23 L672.14,178.11 L673.64,178.00 L675.14,177.89 L676.64,177.77 L678.13,177.66 L679.63,177.54 L681.13,177.43 L682.63,177.32 L684.13,177.20 L685.63,177.09 L687.13,176.98 L688.62,176.86 L690.12,176.75 L691.62,176.63 L693.12,176.52 L694.62,176.40 L696.11,176.29 L697.61,176.17 L699.11,176.06 L700.60,175.94 L702.10,175.82 L703.60,175.71 L705.09,175.59 L706.59,175.48 L708.09,175.36 L709.58,175.24 L711.08,175.13 L712.57,175.01 L714.07,174.89 L715.57,174.77 L717.06,174.66 L718.56,174.54 L720.05,174.42 L721.55,174.30 L723.04,174.18 L724.54,174.07 L726.03,173.95 L727.53,173.83 L729.02,173.71 L730.51,173.59 L732.01,173.47 L733.50,173.35 L735.00,173.23 L736.49,173.11 L737.98,172.99 L739.48,172.87 L740.97,172.75 L742.46,172.63 L743.96,172.50 L745.45,172.38 L746.94,172.26 L748.44,172.14 L749.93,172.02 L751.42,171.90 L752.92,171.77 L754.41,171.65 L755.90,171.53 L757.39,171.40 L758.89,171.28 L760.38,171.16 L761.87,171.03 L763.36,170.91 L764.85,170.78 L766.35,170.66 L767.84,170.53 L769.33,170.41 L770.82,170.28 L772.31,170.16 L773.81,170.03 L775.30,169.91 L776.79,169.78 L778.28,169.65 L779.77,169.53 L781.26,169.40 L782.75,169.27 L784.24,169.14 L785.74,169.01 L787.23,168.89 L788.72,168.76 L790.21,168.63 L791.70,168.50 L793.19,168.37 L794.68,168.24 L796.17,168.11 L797.66,167.98 L799.15,167.85 L800.64,167.72 L802.14,167.59 L803.63,167.46 L805.12,167.33 L806.61,167.19 L808.10,167.06 L809.59,166.93 L811.08,166.80 L812.57,166.66 L814.06,166.53 L815.55,166.40 L817.04,166.26 L818.53,166.13 L820.02,165.99 L821.51,165.86 L823.00,165.72 L824.49,165.59 L825.98,165.45 L827.47,165.32 L828.96,165.18 L830.45,165.04 L831.94,164.91 L833.43,164.77 L834.92,164.63 L836.41,164.50 L837.90,164.36 L839.39,164.22 L840.88,164.08 L842.37,163.94 L843.86,163.80 L845.35,163.66 L846.84,163.52 L848.33,163.38 L849.82,163.24 L851.32,163.10 L852.81,162.96 L854.30,162.82 L855.79,162.67 L857.28,162.53 L858.77,162.39 L860.26,162.25 L861.75,162.10 L863.24,161.96 L864.73,161.82 L866.22,161.67 L867.71,161.53 L869.20,161.38 L870.69,161.24 L872.18,161.09 L873.67,160.95 L875.16,160.80 L876.65,160.66 L878.14,160.51 L879.63,160.36 L881.12,160.22 L882.61,160.07 L884.10,159.92 L885.59,159.78 L887.08,159.63 L888.57,159.48 L890.06,159.33 L891.55,159.18 L893.04,159.03 L894.53,158.89 L896.02,158.74 L897.51,158.59 L899.00,158.44 L900.49,158.29 L901.99,158.14 L903.48,157.99 L904.97,157.84 L906.46,157.69 L907.95,157.54 L909.44,157.39 L910.93,157.23 L912.42,157.08 L913.91,156.93 L915.40,156.78 L916.89,156.63 L918.38,156.48 L919.87,156.32 L921.36,156.17 L922.85,156.02 L924.34,155.87 L925.83,155.71 L927.32,155.56 L928.81,155.41 L930.30,155.25 L931.79,155.10 L933.28,154.95 L934.77,154.79 L936.27,154.64 L937.76,154.48 L939.25,154.33 L940.74,154.17 L942.23,154.02 L943.72,153.86 L945.21,153.71 L946.70,153.55 L948.19,153.40 L949.68,153.24 L951.17,153.09 L952.66,152.93 L954.15,152.78 L955.64,152.62 L957.13,152.46 L958.62,152.31 L960.11,152.15 L961.60,152.00 L963.10,151.84 L964.59,151.68 L966.08,151.53 L967.57,151.37 L969.06,151.21 L970.55,151.06 L972.04,150.90 L973.53,150.74 L975.02,150.58 L976.51,150.43 L978.00,150.27 L979.49,150.11 L980.98,149.96 L982.47,149.80 L983.96,149.64 L985.46,149.48 L986.95,149.32 L988.44,149.17 L989.93,149.01 L991.42,148.85 L992.91,148.69 L994.40,148.53 L995.89,148.38 L997.38,148.22 L998.87,148.06 L1000.36,147.90 L1001.85,147.74 L1003.34,147.59 L1004.84,147.43 L1006.33,147.27 L1007.82,147.11 L1009.31,146.95 L1010.80,146.79 L1012.29,146.64 L1013.78,146.48 L1015.27,146.32 L1016.76,146.16 L1018.25,146.00 L1019.74,145.84 L1021.24,145.68 L1022.73,145.53 L1024.22,145.37 L1025.71,145.21 L1027.20,145.05 L1028.69,144.89 L1030.18,144.73 L1031.67,144.58 L1033.16,144.42 L1034.65,144.26 L1036.15,144.10 L1037.64,143.94 L1039.13,143.78 L1040.62,143.63 L1042.11,143.47 L1043.60,143.31 L1045.09,143.15 L1046.58,142.99 L1048.07,142.83 L1049.56,142.68 L1051.06,142.52 L1052.55,142.36 L1054.04,142.20 L1055.53,142.05 L1057.02,141.89 L1058.51,141.73 L1060.00,141.57 L1061.49,141.42 L1062.98,141.26 L1064.48,141.10 L1065.97,140.94 L1067.46,140.79 L1068.95,140.63 L1070.44,140.47 L1071.93,140.31 L1073.42,140.16 L1074.91,140.00 L1076.41,139.84 L1077.90,139.69 L1079.39,139.53 L1080.88,139.38 L1082.37,139.22 L1083.86,139.06 L1085.35,138.91 L1086.84,138.75 L1088.34,138.60 L1089.83,138.44 L1091.32,138.28 L1092.81,138.13 L1094.30,137.97 L1095.79,137.82 L1097.28,137.66 L1098.78,137.51 L1100.27,137.35 L1101.76,137.20 L1103.25,137.04 L1104.74,136.89 L1106.23,136.74 L1107.72,136.58 L1109.22,136.43 L1110.71,136.28 L1112.20,136.12 L1113.69,135.97 L1115.18,135.82 L1116.67,135.66 L1118.17,135.51 L1119.66,135.36 L1121.15,135.20 L1122.64,135.05 L1124.13,134.90 L1125.62,134.75 L1127.11,134.60 L1128.61,134.44 L1130.10,134.29 L1131.59,134.14 L1133.08,133.99 L1134.57,133.84 L1136.06,133.69 L1137.56,133.54 L1139.05,133.39 L1140.54,133.24 L1142.03,133.09 L1143.52,132.94 L1145.02,132.79 L1146.51,132.64 L1148.00,132.49 L1149.49,132.34 L1150.98,132.20 L1152.47,132.05 L1153.97,131.90 L1155.46,131.75 L1156.95,131.61 L1158.44,131.46 L1159.93,131.31 L1161.43,131.17 L1162.92,131.02 L1164.41,130.87 L1165.90,130.73 L1167.39,130.58 L1168.89,130.44 L1170.38,130.29 L1171.87,130.15 L1173.36,130.00 L1174.85,129.86 L1176.35,129.71 L1177.84,129.57 L1179.33,129.42 L1180.82,129.28 L1182.31,129.14 L1183.81,129.00 L1185.30,128.85 L1186.79,128.71 L1188.28,128.57 L1189.77,128.43 L1191.27,128.28 L1192.76,128.14 L1194.25,128.00 L1195.74,127.86 L1197.23,127.72 L1198.73,127.58 L1200.22,127.44 L1201.71,127.30 L1203.20,127.16 L1204.70,127.02 L1206.19,126.88 L1207.68,126.74 L1209.17,126.60 L1210.66,126.46 L1212.16,126.32 L1213.65,126.19 L1215.14,126.05 L1216.63,125.91 L1218.13,125.77 L1219.62,125.63 L1221.11,125.50 L1222.60,125.36 L1224.10,125.22 L1225.59,125.09 L1227.08,124.95 L1228.57,124.81 L1230.07,124.68 L1231.56,124.54 L1233.05,124.41 L1234.54,124.27 L1236.04,124.14 L1237.53,124.00 L1239.02,123.87 L1240.51,123.73 L1242.01,123.60 L1243.50,123.46 L1244.99,123.33 L1246.48,123.20 L1247.98,123.06 L1249.47,122.93 L1250.96,122.80 L1252.45,122.66 L1253.95,122.53 L1255.44,122.40 L1256.93,122.27 L1258.43,122.14 L1259.92,122.00 L1261.41,121.87 L1262.90,121.74 L1264.40,121.61 L1265.89,121.48 L1267.38,121.35 L1268.87,121.22 L1270.37,121.09 L1271.86,120.96 L1273.35,120.83 L1274.85,120.70 L1276.34,120.57 L1277.83,120.44 L1279.32,120.31 L1280.82,120.18 L1282.31,120.05 L1283.80,119.92 L1285.30,119.79 L1286.79,119.67 L1288.28,119.54 L1289.78,119.41 L1291.27,119.28 L1292.76,119.15 L1294.25,119.03 L1295.75,118.90 L1297.24,118.77 L1298.73,118.65 L1300.23,118.52 L1301.72,118.39 L1303.21,118.27 L1304.71,118.14 L1306.20,118.01 L1307.69,117.89 L1309.19,117.76 L1310.68,117.64 L1312.17,117.51 L1313.67,117.39 L1315.16,117.26 L1316.65,117.14 L1318.14,117.01 L1319.64,116.89 L1321.13,116.76 L1322.62,116.64 L1324.12,116.52 L1325.61,116.39 L1327.10,116.27 L1328.60,116.15 L1330.09,116.02 L1331.58,115.90 L1333.08,115.78 L1334.57,115.65 L1336.07,115.53 L1337.56,115.41 L1339.05,115.29 L1340.55,115.17 L1342.04,115.04 L1343.53,114.92 L1345.03,114.80 L1346.52,114.68 L1348.01,114.56 L1349.51,114.44 L1351.00,114.32 L1352.49,114.19 L1353.99,114.07 L1355.48,113.95 L1356.97,113.83 L1358.47,113.71 L1359.96,113.59 L1361.46,113.47 L1362.95,113.35 L1364.44,113.23 L1365.94,113.11 L1367.43,112.99 L1368.92,112.88 L1370.42,112.76 L1371.91,112.64 L1373.40,112.52 L1374.90,112.40 L1376.39,112.28 L1377.89,112.16 L1379.38,112.05 L1380.87,111.93 L1382.37,111.81 L1383.86,111.69 L1385.36,111.57 L1386.85,111.46 L1388.34,111.34 L1389.84,111.22 L1391.33,111.11 L1392.83,110.99 L1394.32,110.87 L1395.81,110.75 L1397.31,110.64 L1398.80,110.52 L1400.30,110.41 L1401.79,110.29 L1403.28,110.17 L1404.78,110.06 L1406.27,109.94 L1407.77,109.83 L1409.26,109.71 L1410.75,109.59 L1412.25,109.48 L1413.74,109.36 L1415.24,109.25 L1416.73,109.13 L1418.22,109.02 L1419.72,108.90 L1421.21,108.79 L1422.71,108.68 L1424.20,108.56 L1425.70,108.45 L1427.19,108.33 L1428.68,108.22 L1430.18,108.11 L1431.67,107.99 L1433.17,107.88 L1434.66,107.76 L1436.16,107.65 L1437.65,107.54 L1439.14,107.42 L1440.64,107.31 L1442.13,107.20 L1443.63,107.09 L1445.12,106.97 L1446.62,106.86 L1448.11,106.75 L1449.61,106.63 L1451.10,106.52 L1452.60,106.41 L1454.09,106.30 L1455.58,106.19 L1457.08,106.07 L1458.57,105.96 L1460.07,105.85 L1461.56,105.74 L1463.06,105.63 L1464.55,105.52 L1466.05,105.40 L1467.54,105.29 L1469.04,105.18 L1470.53,105.07 L1472.03,104.96 L1473.52,104.85 L1475.01,104.74 L1476.51,104.63 L1478.00,104.52 L1479.50,104.41 L1480.99,104.30 L1482.49,104.19 L1483.98,104.08 L1485.48,103.96 L1486.97,103.86 L1488.47,103.75 L1489.96,103.64 L1491.46,103.53 L1492.95,103.42 L1494.45,103.31 L1495.94,103.20 L1497.44,103.09 L1498.93,102.98 L1500.43,102.88 L1501.92,102.77 L1503.42,102.66 L1504.91,102.56 L1506.41,102.45 L1507.90,102.35 L1509.40,102.24 L1510.89,102.14 L1512.39,102.04 L1513.88,101.93 L1515.38,101.83 L1516.88,101.73 L1518.37,101.63 L1519.87,101.53 L1521.36,101.43 L1522.86,101.33 L1524.35,101.23 L1525.85,101.13 L1527.34,101.04 L1528.84,100.94 L1530.33,100.85 L1531.83,100.75 L1533.33,100.66 L1534.82,100.57 L1536.32,100.47 L1537.81,100.38 L1539.31,100.29 L1540.80,100.21 L1542.30,100.12 L1543.80,100.03 L1545.29,99.95 L1546.79,99.86 L1548.28,99.78 L1549.78,99.70 L1551.28,99.62 L1552.77,99.54 L1554.27,99.46 L1555.76,99.38 L1557.26,99.31 L1558.76,99.23 L1560.25,99.16 L1561.75,99.09 L1563.25,99.02 L1564.74,98.95 L1566.24,98.88 L1567.74,98.81 L1569.23,98.75 L1570.73,98.68 L1572.23,98.62 L1573.72,98.56 L1575.22,98.50 L1576.72,98.44 L1578.21,98.39 L1579.71,98.33 L1581.21,98.28 L1582.70,98.23 L1584.20,98.18 L1585.70,98.13 L1587.19,98.09 L1588.69,98.04 L1590.19,98.00 L1591.69,97.96 L1593.18,97.92 L1594.68,97.88 L1596.18,97.85 L1597.68,97.81 L1599.17,97.78 L1600.67,97.75 L1602.17,97.73 L1603.67,97.70 L1605.16,97.68 L1606.66,97.65 L1608.16,97.63 L1609.66,97.62 L1611.16,97.60 L1612.65,97.59 L1614.15,97.58 L1615.65,97.57 L1617.15,97.56 L1618.65,97.56 L1620.14,97.55 L1621.64,97.55 L1623.14,97.55 L1624.64,97.56 L1626.14,97.57 L1627.64,97.57 L1629.14,97.59 L1630.63,97.60 L1632.13,97.61 L1633.63,97.63 L1635.13,97.65 L1636.63,97.68 L1638.13,97.70 L1639.63,97.73 L1641.13,97.76 L1642.63,97.80 L1644.13,97.83 L1645.63,97.87 L1647.12,97.91 L1648.62,97.95 L1650.12,98.00 L1651.62,98.05 L1653.12,98.09 L1654.62,98.15 L1656.12,98.20 L1657.62,98.25 L1659.12,98.31 L1660.62,98.37 L1662.12,98.43 L1663.62,98.49 L1665.12,98.55 L1666.62,98.62 L1668.12,98.68 L1669.62,98.75 L1671.12,98.82 L1672.62,98.89 L1674.12,98.96 L1675.62,99.04 L1677.12,99.11 L1678.62,99.18 L1680.12,99.26 L1681.62,99.34 L1683.11,99.41 L1684.61,99.49 L1686.11,99.57 L1687.61,99.65 L1689.11,99.73 L1690.61,99.81 L1692.11,99.89 L1693.61,99.97 L1695.11,100.05 L1696.60,100.13 L1698.10,100.22 L1699.60,100.30 L1701.10,100.38 L1702.60,100.46 L1704.10,100.54 L1705.59,100.63 L1707.09,100.71 L1708.59,100.79 L1710.09,100.87 L1711.58,100.95 L1713.08,101.03 L1714.58,101.11 L1716.08,101.19 L1717.57,101.27 L1719.07,101.35 L1720.57,101.43 L1722.06,101.50 L1723.56,101.58 L1725.05,101.65 L1726.55,101.73 L1728.05,101.80 L1729.54,101.87 L1731.04,101.94 L1732.53,102.01 L1734.03,102.08 L1735.52,102.15 L1737.01,102.21 L1738.51,102.28 L1740.00,102.34" stroke="#1a1aaa" stroke-width="3"/>
</g>
<g clip-path="url(#cxc)">
<g transform="scale(1.08,1)" stroke-dasharray="24.8 21.4">
<path d="M221.44,1075.07 L222.11,1073.72 L222.77,1072.37 L223.42,1071.01 L224.07,1069.66 L224.72,1068.30 L225.36,1066.94 L225.99,1065.58 L226.62,1064.22 L227.25,1062.86 L227.87,1061.49 L228.48,1060.12 L229.09,1058.75 L229.70,1057.38 L230.30,1056.01 L230.90,1054.63 L231.49,1053.26 L232.08,1051.88 L232.66,1050.50 L233.24,1049.12 L233.81,1047.73 L234.38,1046.35 L234.95,1044.96 L235.51,1043.58 L236.07,1042.19 L236.63,1040.80 L237.18,1039.40 L237.72,1038.01 L238.27,1036.61 L238.81,1035.22 L239.34,1033.82 L239.87,1032.42 L240.40,1031.02 L240.93,1029.62 L241.45,1028.21 L241.96,1026.81 L242.48,1025.40 L242.99,1024.00 L243.50,1022.59 L244.00,1021.18 L244.50,1019.77 L245.00,1018.36 L245.50,1016.94 L245.99,1015.53 L246.48,1014.11 L246.96,1012.70 L247.45,1011.28 L247.93,1009.86 L248.41,1008.44 L248.88,1007.02 L249.35,1005.60 L249.82,1004.18 L250.29,1002.76 L250.76,1001.33 L251.22,999.91 L251.68,998.48 L252.14,997.06 L252.59,995.63 L253.05,994.20 L253.50,992.77 L253.95,991.34 L254.40,989.91 L254.84,988.48 L255.29,987.05 L255.73,985.62 L256.17,984.18 L256.61,982.75 L257.05,981.32 L257.48,979.88 L257.91,978.45 L258.35,977.01 L258.78,975.57 L259.21,974.14 L259.64,972.70 L260.06,971.26 L260.49,969.83 L260.91,968.39 L261.34,966.95 L261.76,965.51 L262.18,964.07 L262.60,962.63 L263.02,961.19 L263.44,959.75 L263.86,958.31 L264.27,956.87 L264.69,955.43 L265.11,953.99 L265.52,952.55 L265.94,951.10 L266.35,949.66 L266.77,948.22 L267.18,946.78 L267.59,945.34 L268.01,943.90 L268.42,942.45 L268.83,941.01 L269.25,939.57 L269.66,938.13 L270.07,936.69 L270.49,935.25 L270.90,933.81 L271.32,932.37 L271.74,930.93 L272.15,929.49 L272.57,928.05 L272.99,926.61 L273.41,925.17 L273.83,923.74 L274.26,922.30 L274.68,920.86 L275.11,919.43 L275.54,917.99 L275.97,916.56 L276.40,915.13 L276.84,913.70 L277.27,912.27 L277.71,910.84 L278.16,909.41 L278.60,907.99 L279.05,906.56 L279.50,905.14 L279.95,903.71 L280.41,902.29 L280.87,900.87 L281.33,899.45 L281.80,898.04 L282.27,896.62 L282.74,895.21 L283.22,893.79 L283.69,892.38 L284.17,890.97 L284.65,889.55 L285.13,888.14 L285.61,886.73 L286.08,885.32 L286.56,883.90 L287.04,882.49 L287.51,881.07 L287.98,879.65 L288.45,878.23 L288.92,876.81 L289.39,875.39 L289.85,873.97 L290.32,872.54 L290.78,871.12 L291.24,869.69 L291.70,868.27 L292.16,866.84 L292.63,865.41 L293.09,863.99 L293.55,862.56 L294.01,861.13 L294.48,859.71 L294.94,858.28 L295.41,856.85 L295.88,855.43 L296.35,854.00 L296.83,852.58 L297.31,851.16 L297.79,849.74 L298.28,848.32 L298.76,846.90 L299.26,845.48 L299.75,844.07 L300.26,842.66 L300.76,841.25 L301.28,839.84 L301.79,838.43 L302.32,837.03 L302.85,835.63 L303.38,834.23 L303.93,832.84 L304.48,831.45 L305.04,830.06 L305.61,828.68 L306.18,827.30 L306.77,825.93 L307.38,824.56 L307.99,823.20 L308.62,821.85 L309.26,820.50 L309.91,819.16 L310.58,817.83 L311.27,816.51 L311.97,815.20 L312.69,813.89 L313.42,812.60 L314.17,811.31 L314.93,810.03 L315.71,808.76 L316.49,807.49 L317.28,806.22 L318.08,804.96 L318.89,803.70 L319.69,802.44 L320.50,801.19 L321.32,799.93 L322.13,798.67 L322.93,797.41 L323.74,796.15 L324.54,794.89 L325.34,793.62 L326.13,792.36 L326.92,791.09 L327.71,789.82 L328.50,788.55 L329.28,787.28 L330.07,786.01 L330.86,784.74 L331.65,783.47 L332.44,782.21 L333.23,780.95 L334.03,779.69 L334.83,778.43 L335.64,777.17 L336.45,775.93 L337.27,774.68 L338.09,773.44 L338.92,772.21 L339.76,770.98 L340.61,769.76 L341.46,768.54 L342.32,767.33 L343.20,766.13 L344.08,764.93 L344.97,763.74 L345.86,762.55 L346.77,761.37 L347.69,760.20 L348.62,759.03 L349.56,757.87 L350.50,756.72 L351.46,755.57 L352.43,754.43 L353.41,753.29 L354.39,752.16 L355.39,751.04 L356.39,749.92 L357.40,748.81 L358.42,747.71 L359.45,746.61 L360.49,745.52 L361.53,744.43 L362.58,743.35 L363.64,742.28 L364.71,741.21 L365.78,740.15 L366.86,739.10 L367.95,738.05 L369.04,737.01 L370.14,735.97 L371.24,734.94 L372.35,733.92 L373.46,732.90 L374.58,731.89 L375.71,730.88 L376.83,729.88 L377.97,728.89 L379.10,727.90 L380.25,726.92 L381.39,725.94 L382.54,724.97 L383.69,724.01 L384.85,723.05 L386.01,722.09 L387.17,721.15 L388.34,720.21 L389.51,719.27 L390.69,718.34 L391.87,717.42 L393.05,716.50 L394.24,715.58 L395.43,714.68 L396.62,713.78 L397.82,712.88 L399.02,711.99 L400.23,711.10 L401.43,710.22 L402.65,709.35 L403.86,708.48 L405.08,707.61 L406.30,706.76 L407.53,705.90 L408.75,705.05 L409.99,704.21 L411.22,703.37 L412.46,702.54 L413.70,701.71 L414.95,700.89 L416.19,700.07 L417.44,699.26 L418.70,698.45 L419.96,697.65 L421.22,696.85 L422.48,696.05 L423.75,695.27 L425.02,694.48 L426.29,693.70 L427.56,692.93 L428.84,692.16 L430.12,691.39 L431.41,690.63 L432.69,689.88 L433.98,689.13 L435.27,688.38 L436.57,687.64 L437.87,686.90 L439.17,686.17 L440.47,685.44 L441.78,684.71 L443.08,683.99 L444.39,683.28 L445.71,682.56 L447.02,681.86 L448.34,681.15 L449.66,680.45 L450.99,679.76 L452.31,679.07 L453.64,678.38 L454.97,677.70 L456.30,677.02 L457.64,676.34 L458.98,675.67 L460.32,675.01 L461.66,674.34 L463.00,673.68 L464.35,673.03 L465.70,672.38 L467.05,671.73 L468.40,671.08 L469.75,670.44 L471.11,669.81 L472.47,669.17 L473.83,668.54 L475.19,667.92 L476.56,667.30 L477.92,666.68 L479.29,666.06 L480.66,665.45 L482.04,664.84 L483.41,664.23 L484.79,663.63 L486.16,663.03 L487.54,662.44 L488.92,661.84 L490.31,661.25 L491.69,660.67 L493.08,660.09 L494.46,659.51 L495.85,658.93 L497.24,658.35 L498.63,657.78 L500.03,657.22 L501.42,656.65 L502.82,656.09 L504.22,655.53 L505.62,654.97 L507.02,654.42 L508.42,653.87 L509.82,653.32 L511.23,652.78 L512.63,652.23 L514.04,651.69 L515.45,651.16 L516.85,650.62 L518.27,650.09 L519.68,649.56 L521.09,649.03 L522.50,648.51 L523.92,647.98 L525.33,647.46 L526.75,646.95 L528.17,646.43 L529.58,645.92 L531.00,645.41 L532.42,644.90 L533.84,644.39 L535.27,643.89 L536.69,643.39 L538.11,642.89 L539.54,642.39 L540.96,641.89 L542.39,641.40 L543.81,640.91 L545.24,640.42 L546.67,639.93 L548.09,639.44 L549.52,638.96 L550.95,638.48 L552.38,637.99 L553.81,637.52 L555.24,637.04 L556.67,636.56 L558.10,636.09 L559.53,635.62 L560.96,635.15 L562.40,634.68 L563.83,634.21 L565.26,633.74 L566.69,633.28 L568.13,632.81 L569.56,632.35 L570.99,631.89 L572.43,631.43 L573.86,630.97 L575.29,630.52 L576.73,630.06 L578.16,629.61 L579.59,629.15 L581.03,628.70 L582.46,628.25 L583.89,627.80 L585.33,627.35 L586.76,626.90 L588.19,626.46 L589.63,626.01 L591.06,625.57 L592.49,625.13 L593.93,624.68 L595.36,624.24 L596.79,623.80 L598.23,623.37 L599.66,622.93 L601.10,622.49 L602.53,622.06 L603.96,621.63 L605.40,621.19 L606.83,620.76 L608.27,620.33 L609.70,619.90 L611.14,619.48 L612.57,619.05 L614.01,618.62 L615.44,618.20 L616.88,617.78 L618.31,617.36 L619.75,616.93 L621.18,616.52 L622.62,616.10 L624.05,615.68 L625.49,615.26 L626.93,614.85 L628.36,614.44 L629.80,614.02 L631.24,613.61 L632.67,613.20 L634.11,612.79 L635.55,612.39 L636.99,611.98 L638.42,611.57 L639.86,611.17 L641.30,610.77 L642.74,610.36 L644.18,609.96 L645.62,609.56 L647.06,609.17 L648.50,608.77 L649.94,608.37 L651.38,607.98 L652.82,607.58 L654.26,607.19 L655.70,606.80 L657.14,606.41 L658.58,606.02 L660.02,605.63 L661.47,605.24 L662.91,604.86 L664.35,604.47 L665.80,604.09 L667.24,603.71 L668.68,603.33 L670.13,602.95 L671.57,602.57 L673.02,602.19 L674.46,601.82 L675.91,601.44 L677.36,601.07 L678.80,600.69 L680.25,600.32 L681.70,599.95 L683.14,599.58 L684.59,599.21 L686.04,598.85 L687.49,598.48 L688.94,598.12 L690.39,597.75 L691.84,597.39 L693.29,597.03 L694.74,596.67 L696.19,596.31 L697.65,595.95 L699.10,595.60 L700.55,595.24 L702.01,594.89 L703.46,594.53 L704.91,594.18 L706.37,593.83 L707.82,593.48 L709.28,593.13 L710.74,592.78 L712.19,592.44 L713.65,592.09 L715.11,591.75 L716.57,591.41 L718.03,591.06 L719.49,590.72 L720.95,590.38 L722.41,590.05 L723.87,589.71 L725.33,589.37 L726.79,589.04 L728.25,588.70 L729.71,588.37 L731.18,588.04 L732.64,587.70 L734.10,587.37 L735.57,587.04 L737.03,586.72 L738.50,586.39 L739.96,586.06 L741.43,585.74 L742.89,585.41 L744.36,585.09 L745.83,584.77 L747.29,584.44 L748.76,584.12 L750.23,583.80 L751.69,583.48 L753.16,583.17 L754.63,582.85 L756.10,582.53 L757.57,582.22 L759.04,581.90 L760.51,581.59 L761.98,581.27 L763.45,580.96 L764.92,580.65 L766.39,580.34 L767.86,580.03 L769.33,579.72 L770.80,579.41 L772.27,579.11 L773.74,578.80 L775.22,578.49 L776.69,578.19 L778.16,577.88 L779.63,577.58 L781.11,577.28 L782.58,576.98 L784.05,576.67 L785.52,576.37 L787.00,576.07 L788.47,575.77 L789.95,575.47 L791.42,575.18 L792.89,574.88 L794.37,574.58 L795.84,574.29 L797.32,573.99 L798.79,573.70 L800.27,573.40 L801.74,573.11 L803.22,572.82 L804.69,572.52 L806.17,572.23 L807.64,571.94 L809.12,571.65 L810.59,571.36 L812.07,571.07 L813.54,570.78 L815.02,570.49 L816.49,570.20 L817.97,569.92 L819.44,569.63 L820.92,569.34 L822.40,569.06 L823.87,568.77 L825.35,568.48 L826.82,568.20 L828.30,567.92 L829.77,567.63 L831.25,567.35 L832.73,567.07 L834.20,566.78 L835.68,566.50 L837.15,566.22 L838.63,565.94 L840.10,565.66 L841.58,565.38 L843.05,565.10 L844.53,564.82 L846.00,564.54 L847.48,564.26 L848.95,563.98 L850.43,563.70 L851.90,563.42 L853.38,563.14 L854.85,562.87 L856.33,562.59 L857.80,562.31 L859.28,562.04 L860.75,561.76 L862.23,561.48 L863.70,561.21 L865.17,560.93 L866.65,560.66 L868.12,560.38 L869.60,560.11 L871.07,559.83 L872.54,559.56 L874.02,559.29 L875.49,559.01 L876.96,558.74 L878.44,558.47 L879.91,558.19 L881.39,557.92 L882.86,557.65 L884.33,557.38 L885.81,557.11 L887.28,556.84 L888.75,556.57 L890.23,556.29 L891.70,556.02 L893.17,555.75 L894.65,555.48 L896.12,555.22 L897.59,554.95 L899.07,554.68 L900.54,554.41 L902.01,554.14 L903.49,553.87 L904.96,553.60 L906.43,553.34 L907.91,553.07 L909.38,552.80 L910.85,552.53 L912.33,552.27 L913.80,552.00 L915.27,551.73 L916.75,551.47 L918.22,551.20 L919.69,550.94 L921.17,550.67 L922.64,550.41 L924.11,550.14 L925.59,549.88 L927.06,549.61 L928.53,549.35 L930.01,549.08 L931.48,548.82 L932.96,548.56 L934.43,548.29 L935.90,548.03 L937.38,547.77 L938.85,547.50 L940.33,547.24 L941.80,546.98 L943.27,546.72 L944.75,546.45 L946.22,546.19 L947.70,545.93 L949.17,545.67 L950.65,545.41 L952.12,545.15 L953.60,544.88 L955.07,544.62 L956.55,544.36 L958.02,544.10 L959.50,543.84 L960.97,543.58 L962.45,543.32 L963.92,543.06 L965.40,542.80 L966.87,542.54 L968.35,542.28 L969.82,542.02 L971.30,541.77 L972.78,541.51 L974.25,541.25 L975.73,540.99 L977.21,540.73 L978.68,540.47 L980.16,540.21 L981.64,539.96 L983.11,539.70 L984.59,539.44 L986.07,539.18 L987.54,538.93 L989.02,538.67 L990.50,538.41 L991.98,538.15 L993.45,537.90 L994.93,537.64 L996.41,537.38 L997.89,537.13 L999.37,536.87 L1000.85,536.62 L1002.32,536.36 L1003.80,536.11 L1005.28,535.85 L1006.76,535.60 L1008.24,535.34 L1009.72,535.09 L1011.20,534.84 L1012.68,534.58 L1014.16,534.33 L1015.64,534.08 L1017.12,533.83 L1018.60,533.58 L1020.08,533.33 L1021.56,533.08 L1023.04,532.83 L1024.52,532.58 L1026.00,532.33 L1027.48,532.08 L1028.96,531.83 L1030.45,531.59 L1031.93,531.34 L1033.41,531.10 L1034.89,530.85 L1036.37,530.61 L1037.85,530.36 L1039.34,530.12 L1040.82,529.88 L1042.30,529.63 L1043.78,529.39 L1045.26,529.15 L1046.75,528.91 L1048.23,528.67 L1049.71,528.44 L1051.20,528.20 L1052.68,527.96 L1054.16,527.73 L1055.65,527.49 L1057.13,527.26 L1058.61,527.02 L1060.10,526.79 L1061.58,526.56 L1063.06,526.33 L1064.55,526.10 L1066.03,525.87 L1067.52,525.64 L1069.00,525.42 L1070.49,525.19 L1071.97,524.97 L1073.46,524.74 L1074.94,524.52 L1076.43,524.30 L1077.91,524.08 L1079.40,523.86 L1080.88,523.64 L1082.37,523.42 L1083.85,523.20 L1085.34,522.99 L1086.83,522.77 L1088.31,522.56 L1089.80,522.35 L1091.29,522.14 L1092.77,521.93 L1094.26,521.72 L1095.75,521.51 L1097.23,521.30 L1098.72,521.10 L1100.21,520.90 L1101.69,520.69 L1103.18,520.49 L1104.67,520.29 L1106.16,520.09 L1107.64,519.90 L1109.13,519.70 L1110.62,519.51 L1112.11,519.31 L1113.60,519.12 L1115.08,518.93 L1116.57,518.74 L1118.06,518.56 L1119.55,518.37 L1121.04,518.19 L1122.53,518.00 L1124.02,517.82 L1125.51,517.64 L1127.00,517.46 L1128.48,517.29 L1129.97,517.11 L1131.46,516.94 L1132.95,516.76 L1134.44,516.59 L1135.93,516.42 L1137.42,516.25 L1138.91,516.09 L1140.40,515.92 L1141.89,515.76 L1143.38,515.59 L1144.88,515.43 L1146.37,515.27 L1147.86,515.11 L1149.35,514.96 L1150.84,514.80 L1152.33,514.65 L1153.82,514.49 L1155.31,514.34 L1156.80,514.19 L1158.30,514.04 L1159.79,513.89 L1161.28,513.75 L1162.77,513.60 L1164.26,513.46 L1165.75,513.31 L1167.25,513.17 L1168.74,513.03 L1170.23,512.89 L1171.72,512.75 L1173.22,512.62 L1174.71,512.48 L1176.20,512.35 L1177.69,512.22 L1179.19,512.08 L1180.68,511.95 L1182.17,511.82 L1183.67,511.70 L1185.16,511.57 L1186.65,511.44 L1188.15,511.32 L1189.64,511.20 L1191.13,511.07 L1192.63,510.95 L1194.12,510.83 L1195.62,510.72 L1197.11,510.60 L1198.60,510.48 L1200.10,510.37 L1201.59,510.25 L1203.09,510.14 L1204.58,510.03 L1206.08,509.92 L1207.57,509.81 L1209.07,509.70 L1210.56,509.59 L1212.06,509.48 L1213.55,509.38 L1215.05,509.27 L1216.54,509.17 L1218.04,509.07 L1219.53,508.97 L1221.03,508.87 L1222.52,508.77 L1224.02,508.67 L1225.51,508.57 L1227.01,508.47 L1228.50,508.38 L1230.00,508.28 L1231.50,508.19 L1232.99,508.10 L1234.49,508.01 L1235.98,507.92 L1237.48,507.83 L1238.98,507.74 L1240.47,507.65 L1241.97,507.56 L1243.47,507.48 L1244.96,507.39 L1246.46,507.31 L1247.96,507.22 L1249.45,507.14 L1250.95,507.06 L1252.45,506.98 L1253.94,506.90 L1255.44,506.82 L1256.94,506.74 L1258.43,506.67 L1259.93,506.59 L1261.43,506.51 L1262.93,506.44 L1264.42,506.36 L1265.92,506.29 L1267.42,506.22 L1268.92,506.15 L1270.41,506.08 L1271.91,506.01 L1273.41,505.94 L1274.91,505.87 L1276.40,505.80 L1277.90,505.73 L1279.40,505.67 L1280.90,505.60 L1282.40,505.54 L1283.89,505.47 L1285.39,505.41 L1286.89,505.35 L1288.39,505.28 L1289.89,505.22 L1291.39,505.16 L1292.88,505.10 L1294.38,505.04 L1295.88,504.98 L1297.38,504.93 L1298.88,504.87 L1300.38,504.81 L1301.88,504.75 L1303.37,504.70 L1304.87,504.64 L1306.37,504.59 L1307.87,504.54 L1309.37,504.48 L1310.87,504.43 L1312.37,504.38 L1313.87,504.33 L1315.37,504.28 L1316.87,504.23 L1318.36,504.18 L1319.86,504.13 L1321.36,504.08 L1322.86,504.03 L1324.36,503.98 L1325.86,503.94 L1327.36,503.89 L1328.86,503.84 L1330.36,503.80 L1331.86,503.75 L1333.36,503.71 L1334.86,503.66 L1336.36,503.62 L1337.86,503.58 L1339.36,503.53 L1340.86,503.49 L1342.36,503.45 L1343.86,503.41 L1345.36,503.37 L1346.86,503.33 L1348.36,503.28 L1349.86,503.25 L1351.36,503.21 L1352.85,503.17 L1354.35,503.13 L1355.85,503.09 L1357.35,503.05 L1358.85,503.01 L1360.35,502.98 L1361.85,502.94 L1363.36,502.90 L1364.86,502.87 L1366.36,502.83 L1367.86,502.79 L1369.36,502.76 L1370.86,502.72 L1372.36,502.69 L1373.86,502.65 L1375.36,502.62 L1376.86,502.59 L1378.36,502.55 L1379.86,502.52 L1381.36,502.49 L1382.86,502.45 L1384.36,502.42 L1385.86,502.39 L1387.36,502.36 L1388.86,502.32 L1390.36,502.29 L1391.86,502.26 L1393.36,502.23 L1394.86,502.20 L1396.36,502.17 L1397.86,502.13 L1399.36,502.10 L1400.86,502.07 L1402.36,502.04 L1403.86,502.01 L1405.36,501.98 L1406.86,501.95 L1408.36,501.92 L1409.87,501.89 L1411.37,501.86 L1412.87,501.83 L1414.37,501.80 L1415.87,501.77 L1417.37,501.74 L1418.87,501.71 L1420.37,501.68 L1421.87,501.65 L1423.37,501.62 L1424.87,501.60 L1426.37,501.57 L1427.87,501.54 L1429.37,501.51 L1430.87,501.48 L1432.37,501.45 L1433.87,501.42 L1435.37,501.39 L1436.87,501.36 L1438.37,501.33 L1439.87,501.30 L1441.37,501.27 L1442.87,501.24 L1444.38,501.22 L1445.88,501.19 L1447.38,501.16 L1448.88,501.13 L1450.38,501.10 L1451.88,501.07 L1453.38,501.04 L1454.88,501.01 L1456.38,500.98 L1457.88,500.95 L1459.38,500.92 L1460.88,500.88 L1462.38,500.85 L1463.88,500.82 L1465.38,500.79 L1466.88,500.76 L1468.38,500.73 L1469.88,500.70 L1471.38,500.67 L1472.88,500.63 L1474.38,500.60 L1475.88,500.57 L1477.38,500.54 L1478.88,500.50 L1480.38,500.47 L1481.88,500.44 L1483.38,500.40 L1484.88,500.37 L1486.38,500.34 L1487.88,500.30 L1489.38,500.27 L1490.88,500.23 L1492.38,500.20 L1493.88,500.16 L1495.38,500.13 L1496.88,500.09 L1498.38,500.05 L1499.88,500.02 L1501.38,499.98 L1502.88,499.94 L1504.37,499.91 L1505.87,499.87 L1507.37,499.83 L1508.87,499.79 L1510.37,499.75 L1511.87,499.71 L1513.37,499.67 L1514.87,499.63 L1516.37,499.59 L1517.87,499.55 L1519.37,499.51 L1520.87,499.47 L1522.37,499.42 L1523.86,499.38 L1525.36,499.34 L1526.86,499.29 L1528.36,499.25 L1529.86,499.21 L1531.36,499.16 L1532.86,499.11 L1534.36,499.07 L1535.85,499.02 L1537.35,498.97 L1538.85,498.93 L1540.35,498.88 L1541.85,498.83 L1543.35,498.78 L1544.85,498.73 L1546.34,498.68 L1547.84,498.63 L1549.34,498.58 L1550.84,498.53 L1552.34,498.47 L1553.83,498.42 L1555.33,498.37 L1556.83,498.31 L1558.33,498.26 L1559.83,498.20 L1561.32,498.15 L1562.82,498.09 L1564.32,498.03 L1565.82,497.97 L1567.31,497.91 L1568.81,497.86 L1570.31,497.80 L1571.81,497.73 L1573.30,497.67 L1574.80,497.61 L1576.30,497.55 L1577.79,497.48 L1579.29,497.42 L1580.79,497.36 L1582.28,497.29 L1583.78,497.22 L1585.28,497.16 L1586.77,497.09 L1588.27,497.02 L1589.77,496.95 L1591.26,496.88 L1592.76,496.81 L1594.26,496.74 L1595.75,496.67 L1597.25,496.59 L1598.75,496.52 L1600.24,496.44 L1601.74,496.37 L1603.23,496.29 L1604.73,496.21 L1606.23,496.14 L1607.72,496.06 L1609.22,495.98" stroke="#ff0000" stroke-width="5.0" stroke-dashoffset="1.8"/>
<path d="M283.87,635.06 L285.13,634.25 L286.39,633.44 L287.66,632.64 L288.92,631.83 L290.19,631.03 L291.46,630.22 L292.73,629.42 L294.00,628.63 L295.27,627.83 L296.54,627.04 L297.82,626.24 L299.10,625.45 L300.38,624.66 L301.66,623.88 L302.94,623.09 L304.22,622.31 L305.51,621.53 L306.79,620.76 L308.08,619.98 L309.37,619.21 L310.66,618.45 L311.96,617.68 L313.25,616.92 L314.55,616.16 L315.85,615.40 L317.15,614.65 L318.45,613.90 L319.76,613.15 L321.06,612.41 L322.37,611.66 L323.68,610.93 L324.99,610.19 L326.30,609.46 L327.62,608.74 L328.93,608.01 L330.25,607.29 L331.57,606.58 L332.90,605.87 L334.22,605.16 L335.55,604.46 L336.87,603.76 L338.20,603.06 L339.54,602.37 L340.87,601.68 L342.21,601.00 L343.54,600.32 L344.88,599.65 L346.23,598.98 L347.57,598.32 L348.91,597.66 L350.26,597.00 L351.61,596.35 L352.96,595.71 L354.32,595.07 L355.67,594.43 L357.03,593.80 L358.39,593.18 L359.76,592.56 L361.12,591.94 L362.49,591.33 L363.86,590.73 L365.23,590.13 L366.60,589.54 L367.97,588.95 L369.35,588.37 L370.73,587.80 L372.11,587.23 L373.50,586.66 L374.88,586.11 L376.27,585.55 L377.66,585.00 L379.05,584.46 L380.45,583.93 L381.84,583.39 L383.24,582.87 L384.64,582.35 L386.04,581.83 L387.45,581.32 L388.85,580.82 L390.26,580.32 L391.67,579.82 L393.08,579.33 L394.49,578.85 L395.90,578.37 L397.32,577.90 L398.74,577.43 L400.16,576.96 L401.58,576.51 L403.00,576.05 L404.43,575.60 L405.85,575.16 L407.28,574.72 L408.71,574.28 L410.14,573.85 L411.57,573.43 L413.00,573.01 L414.44,572.59 L415.87,572.18 L417.31,571.78 L418.75,571.38 L420.19,570.98 L421.63,570.59 L423.08,570.20 L424.52,569.82 L425.97,569.44 L427.41,569.06 L428.86,568.69 L430.31,568.33 L431.76,567.97 L433.21,567.61 L434.66,567.26 L436.12,566.91 L437.57,566.57 L439.03,566.23 L440.49,565.89 L441.94,565.56 L443.40,565.23 L444.86,564.91 L446.32,564.59 L447.79,564.28 L449.25,563.96 L450.71,563.66 L452.18,563.35 L453.64,563.06 L455.11,562.76 L456.57,562.47 L458.04,562.18 L459.51,561.90 L460.98,561.62 L462.45,561.34 L463.92,561.07 L465.39,560.80 L466.86,560.54 L468.33,560.28 L469.81,560.02 L471.28,559.76 L472.75,559.51 L474.23,559.27 L475.70,559.02 L477.18,558.78 L478.66,558.55 L480.13,558.31 L481.61,558.08 L483.09,557.85 L484.57,557.63 L486.05,557.41 L487.53,557.19 L489.01,556.98 L490.49,556.77 L491.97,556.56 L493.45,556.35 L494.93,556.15 L496.41,555.95 L497.90,555.76 L499.38,555.56 L500.86,555.37 L502.35,555.19 L503.83,555.00 L505.32,554.82 L506.80,554.64 L508.29,554.46 L509.78,554.29 L511.26,554.12 L512.75,553.95 L514.24,553.78 L515.73,553.62 L517.22,553.45 L518.70,553.29 L520.19,553.14 L521.68,552.98 L523.17,552.83 L524.66,552.68 L526.16,552.53 L527.65,552.39 L529.14,552.24 L530.63,552.10 L532.12,551.96 L533.61,551.82 L535.11,551.69 L536.60,551.55 L538.09,551.42 L539.59,551.29 L541.08,551.16 L542.58,551.04 L544.07,550.91 L545.57,550.79 L547.06,550.67 L548.56,550.55 L550.05,550.43 L551.55,550.32 L553.04,550.20 L554.54,550.09 L556.04,549.98 L557.53,549.87 L559.03,549.76 L560.53,549.65 L562.03,549.54 L563.52,549.44 L565.02,549.33 L566.52,549.23 L568.02,549.13 L569.52,549.03 L571.01,548.93 L572.51,548.83 L574.01,548.73 L575.51,548.64 L577.01,548.54 L578.51,548.45 L580.01,548.36 L581.51,548.26 L583.01,548.17 L584.51,548.08 L586.01,547.99 L587.51,547.90 L589.01,547.81 L590.51,547.72 L592.01,547.64 L593.51,547.55 L595.01,547.46 L596.51,547.38 L598.01,547.29 L599.51,547.20 L601.01,547.12 L602.51,547.04 L604.01,546.95 L605.51,546.87 L607.01,546.78 L608.51,546.70 L610.01,546.62 L611.52,546.53 L613.02,546.45 L614.52,546.36 L616.02,546.28 L617.52,546.20 L619.02,546.11 L620.52,546.03 L622.02,545.95 L623.52,545.86 L625.02,545.78 L626.52,545.69 L628.02,545.61 L629.52,545.52 L631.02,545.44 L632.52,545.35 L634.02,545.27 L635.52,545.18 L637.02,545.09 L638.52,545.00 L640.02,544.91 L641.52,544.82 L643.02,544.73 L644.52,544.64 L646.02,544.55 L647.51,544.46 L649.01,544.37 L650.51,544.27 L652.01,544.18 L653.51,544.08 L655.00,543.99 L656.50,543.89 L658.00,543.79 L659.50,543.69 L660.99,543.59 L662.49,543.49 L663.99,543.39 L665.48,543.28 L666.98,543.18 L668.48,543.08 L669.97,542.97 L671.47,542.86 L672.97,542.76 L674.46,542.65 L675.96,542.54 L677.45,542.43 L678.95,542.32 L680.44,542.21 L681.94,542.10 L683.43,541.98 L684.93,541.87 L686.42,541.76 L687.92,541.64 L689.41,541.53 L690.90,541.41 L692.40,541.29 L693.89,541.17 L695.39,541.05 L696.88,540.94 L698.37,540.81 L699.87,540.69 L701.36,540.57 L702.85,540.45 L704.35,540.33 L705.84,540.20 L707.33,540.08 L708.82,539.95 L710.32,539.83 L711.81,539.70 L713.30,539.57 L714.79,539.45 L716.29,539.32 L717.78,539.19 L719.27,539.06 L720.76,538.93 L722.25,538.80 L723.74,538.67 L725.24,538.53 L726.73,538.40 L728.22,538.27 L729.71,538.13 L731.20,538.00 L732.69,537.86 L734.18,537.73 L735.67,537.59 L737.16,537.46 L738.66,537.32 L740.15,537.18 L741.64,537.04 L743.13,536.90 L744.62,536.77 L746.11,536.63 L747.60,536.48 L749.09,536.34 L750.58,536.20 L752.07,536.06 L753.56,535.92 L755.05,535.78 L756.54,535.63 L758.03,535.49 L759.52,535.35 L761.01,535.20 L762.50,535.06 L763.99,534.91 L765.48,534.77 L766.97,534.62 L768.46,534.47 L769.95,534.33 L771.44,534.18 L772.92,534.03 L774.41,533.88 L775.90,533.73 L777.39,533.58 L778.88,533.44 L780.37,533.29 L781.86,533.14 L783.35,532.99 L784.84,532.84 L786.33,532.68 L787.82,532.53 L789.31,532.38 L790.80,532.23 L792.28,532.08 L793.77,531.93 L795.26,531.77 L796.75,531.62 L798.24,531.47 L799.73,531.31 L801.22,531.16 L802.71,531.00 L804.20,530.85 L805.69,530.70 L807.17,530.54 L808.66,530.38 L810.15,530.23 L811.64,530.07 L813.13,529.92 L814.62,529.76 L816.11,529.60 L817.60,529.45 L819.09,529.29 L820.57,529.13 L822.06,528.97 L823.55,528.82 L825.04,528.66 L826.53,528.50 L828.02,528.34 L829.51,528.18 L831.00,528.02 L832.48,527.86 L833.97,527.70 L835.46,527.54 L836.95,527.38 L838.44,527.22 L839.93,527.06 L841.42,526.90 L842.90,526.74 L844.39,526.57 L845.88,526.41 L847.37,526.25 L848.86,526.09 L850.35,525.93 L851.84,525.76 L853.32,525.60 L854.81,525.44 L856.30,525.27 L857.79,525.11 L859.28,524.94 L860.77,524.78 L862.26,524.61 L863.74,524.45 L865.23,524.28 L866.72,524.12 L868.21,523.95 L869.70,523.79 L871.19,523.62 L872.67,523.45 L874.16,523.29 L875.65,523.12 L877.14,522.95 L878.63,522.79 L880.12,522.62 L881.60,522.45 L883.09,522.28 L884.58,522.12 L886.07,521.95 L887.56,521.78 L889.05,521.61 L890.53,521.44 L892.02,521.27 L893.51,521.10 L895.00,520.93 L896.49,520.76 L897.97,520.59 L899.46,520.42 L900.95,520.25 L902.44,520.08 L903.93,519.91 L905.41,519.74 L906.90,519.57 L908.39,519.40 L909.88,519.23 L911.37,519.05 L912.86,518.88 L914.34,518.71 L915.83,518.54 L917.32,518.37 L918.81,518.19 L920.30,518.02 L921.78,517.85 L923.27,517.67 L924.76,517.50 L926.25,517.33 L927.74,517.15 L929.22,516.98 L930.71,516.80 L932.20,516.63 L933.69,516.46 L935.17,516.28 L936.66,516.11 L938.15,515.93 L939.64,515.76 L941.13,515.58 L942.61,515.41 L944.10,515.23 L945.59,515.05 L947.08,514.88 L948.57,514.70 L950.05,514.53 L951.54,514.35 L953.03,514.17 L954.52,514.00 L956.00,513.82 L957.49,513.64 L958.98,513.46 L960.47,513.29 L961.96,513.11 L963.44,512.93 L964.93,512.75 L966.42,512.58 L967.91,512.40 L969.39,512.22 L970.88,512.04 L972.37,511.86 L973.86,511.68 L975.34,511.50 L976.83,511.33 L978.32,511.15 L979.81,510.97 L981.30,510.79 L982.78,510.61 L984.27,510.43 L985.76,510.25 L987.25,510.07 L988.73,509.89 L990.22,509.71 L991.71,509.53 L993.20,509.35 L994.68,509.17 L996.17,508.99 L997.66,508.81 L999.15,508.62 L1000.63,508.44 L1002.12,508.26 L1003.61,508.08 L1005.10,507.90 L1006.58,507.72 L1008.07,507.54 L1009.56,507.36 L1011.05,507.17 L1012.53,506.99 L1014.02,506.81 L1015.51,506.63 L1017.00,506.45 L1018.48,506.26 L1019.97,506.08 L1021.46,505.90 L1022.95,505.72 L1024.43,505.53 L1025.92,505.35 L1027.41,505.17 L1028.90,504.99 L1030.38,504.80 L1031.87,504.62 L1033.36,504.44 L1034.85,504.25 L1036.33,504.07 L1037.82,503.89 L1039.31,503.70 L1040.80,503.52 L1042.28,503.34 L1043.77,503.15 L1045.26,502.97 L1046.74,502.78 L1048.23,502.60 L1049.72,502.42 L1051.21,502.23 L1052.69,502.05 L1054.18,501.86 L1055.67,501.68 L1057.16,501.50 L1058.64,501.31 L1060.13,501.13 L1061.62,500.94 L1063.11,500.76 L1064.59,500.57 L1066.08,500.39 L1067.57,500.20 L1069.05,500.02 L1070.54,499.83 L1072.03,499.65 L1073.52,499.46 L1075.00,499.28 L1076.49,499.09 L1077.98,498.91 L1079.47,498.72 L1080.95,498.54 L1082.44,498.35 L1083.93,498.17 L1085.41,497.98 L1086.90,497.80 L1088.39,497.61 L1089.88,497.43 L1091.36,497.24 L1092.85,497.06 L1094.34,496.87 L1095.83,496.69 L1097.31,496.50 L1098.80,496.31 L1100.29,496.13 L1101.77,495.94 L1103.26,495.76 L1104.75,495.57 L1106.24,495.39 L1107.72,495.20 L1109.21,495.01 L1110.70,494.83 L1112.19,494.64 L1113.67,494.46 L1115.16,494.27 L1116.65,494.09 L1118.13,493.90 L1119.62,493.71 L1121.11,493.53 L1122.60,493.34 L1124.08,493.16 L1125.57,492.97 L1127.06,492.78 L1128.54,492.60 L1130.03,492.41 L1131.52,492.23 L1133.01,492.04 L1134.49,491.86 L1135.98,491.67 L1137.47,491.48 L1138.96,491.30 L1140.44,491.11 L1141.93,490.93 L1143.42,490.74 L1144.90,490.55 L1146.39,490.37 L1147.88,490.18 L1149.37,490.00 L1150.85,489.81 L1152.34,489.63 L1153.83,489.44 L1155.31,489.26 L1156.80,489.07 L1158.29,488.88 L1159.78,488.70 L1161.26,488.51 L1162.75,488.33 L1164.24,488.14 L1165.72,487.96 L1167.21,487.77 L1168.70,487.59 L1170.19,487.40 L1171.67,487.22 L1173.16,487.03 L1174.65,486.84 L1176.14,486.66 L1177.62,486.47 L1179.11,486.29 L1180.60,486.10 L1182.08,485.92 L1183.57,485.73 L1185.06,485.55 L1186.55,485.36 L1188.03,485.18 L1189.52,485.00 L1191.01,484.81 L1192.49,484.63 L1193.98,484.44 L1195.47,484.26 L1196.96,484.07 L1198.44,483.89 L1199.93,483.70 L1201.42,483.52 L1202.91,483.34 L1204.39,483.15 L1205.88,482.97 L1207.37,482.78 L1208.85,482.60 L1210.34,482.42 L1211.83,482.23 L1213.32,482.05 L1214.80,481.86 L1216.29,481.68 L1217.78,481.50 L1219.27,481.31 L1220.75,481.13 L1222.24,480.95 L1223.73,480.76 L1225.21,480.58 L1226.70,480.40 L1228.19,480.22 L1229.68,480.03 L1231.16,479.85 L1232.65,479.67 L1234.14,479.49 L1235.63,479.30 L1237.11,479.12 L1238.60,478.94 L1240.09,478.76 L1241.57,478.57 L1243.06,478.39 L1244.55,478.21 L1246.04,478.03 L1247.52,477.85 L1249.01,477.67 L1250.50,477.48 L1251.99,477.30 L1253.47,477.12 L1254.96,476.94 L1256.45,476.76 L1257.94,476.58 L1259.42,476.40 L1260.91,476.22 L1262.40,476.04 L1263.88,475.86 L1265.37,475.68 L1266.86,475.50 L1268.35,475.32 L1269.83,475.14 L1271.32,474.96 L1272.81,474.78 L1274.30,474.60 L1275.78,474.42 L1277.27,474.24 L1278.76,474.06 L1280.25,473.88 L1281.73,473.70 L1283.22,473.52 L1284.71,473.35 L1286.20,473.17 L1287.68,472.99 L1289.17,472.81 L1290.66,472.63 L1292.15,472.45 L1293.63,472.28 L1295.12,472.10 L1296.61,471.92 L1298.10,471.75 L1299.58,471.57 L1301.07,471.39 L1302.56,471.21 L1304.05,471.04 L1305.53,470.86 L1307.02,470.68 L1308.51,470.51 L1310.00,470.33 L1311.48,470.16 L1312.97,469.98 L1314.46,469.81 L1315.95,469.63 L1317.43,469.46 L1318.92,469.28 L1320.41,469.11 L1321.90,468.93 L1323.38,468.76 L1324.87,468.58 L1326.36,468.41 L1327.85,468.23 L1329.34,468.06 L1330.82,467.89 L1332.31,467.71 L1333.80,467.54 L1335.29,467.37 L1336.77,467.19 L1338.26,467.02 L1339.75,466.85 L1341.24,466.68 L1342.72,466.50 L1344.21,466.33 L1345.70,466.16 L1347.19,465.99 L1348.68,465.82 L1350.16,465.65 L1351.65,465.48 L1353.14,465.31 L1354.63,465.13 L1356.11,464.96 L1357.60,464.79 L1359.09,464.62 L1360.58,464.45 L1362.07,464.29 L1363.55,464.12 L1365.04,463.95 L1366.53,463.78 L1368.02,463.61 L1369.51,463.44 L1370.99,463.27 L1372.48,463.10 L1373.97,462.94 L1375.46,462.77 L1376.94,462.60 L1378.43,462.43 L1379.92,462.27 L1381.41,462.10 L1382.90,461.93 L1384.38,461.77 L1385.87,461.60 L1387.36,461.44 L1388.85,461.27 L1390.34,461.11 L1391.82,460.94 L1393.31,460.78 L1394.80,460.61 L1396.29,460.45" stroke="#000" stroke-width="5.0" stroke-dashoffset="-2.5"/>
<path d="M222.27,819.01 L222.97,817.62 L223.62,816.23 L224.23,814.82 L224.79,813.41 L225.31,812.00 L225.80,810.57 L226.24,809.14 L226.66,807.70 L227.04,806.26 L227.39,804.81 L227.71,803.35 L228.00,801.89 L228.27,800.43 L228.52,798.96 L228.75,797.49 L228.96,796.01 L229.16,794.54 L229.33,793.05 L229.50,791.57 L229.66,790.09 L229.81,788.60 L229.95,787.11 L230.09,785.62 L230.23,784.13 L230.36,782.64 L230.50,781.15 L230.64,779.66 L230.79,778.17 L230.95,776.69 L231.12,775.20 L231.30,773.72 L231.49,772.23 L231.70,770.76 L231.93,769.28 L232.17,767.81 L232.42,766.33 L232.69,764.86 L232.96,763.40 L233.25,761.93 L233.54,760.46 L233.84,759.00 L234.14,757.53 L234.45,756.07 L234.76,754.61 L235.08,753.15 L235.39,751.68 L235.70,750.22 L236.01,748.76 L236.31,747.29 L236.62,745.83 L236.92,744.36 L237.21,742.90 L237.51,741.43 L237.80,739.96 L238.09,738.49 L238.38,737.03 L238.67,735.56 L238.95,734.09 L239.24,732.62 L239.52,731.15 L239.80,729.68 L240.07,728.21 L240.35,726.74 L240.63,725.27 L240.90,723.80 L241.17,722.33 L241.44,720.86 L241.72,719.38 L241.99,717.91 L242.25,716.44 L242.52,714.97 L242.79,713.49 L243.06,712.02 L243.32,710.55 L243.59,709.07 L243.86,707.60 L244.12,706.13 L244.39,704.65 L244.66,703.18 L244.92,701.71 L245.19,700.23 L245.45,698.76 L245.72,697.28 L245.99,695.81 L246.26,694.34 L246.53,692.86 L246.80,691.39 L247.07,689.91 L247.34,688.44 L247.61,686.97 L247.89,685.49 L248.16,684.02 L248.44,682.55 L248.72,681.07 L249.00,679.60 L249.28,678.13 L249.57,676.65 L249.85,675.18 L250.14,673.71 L250.43,672.24 L250.72,670.77 L251.01,669.30 L251.31,667.82 L251.60,666.35 L251.90,664.88 L252.21,663.41 L252.51,661.95 L252.82,660.48 L253.13,659.01 L253.44,657.54 L253.76,656.07 L254.08,654.61 L254.40,653.14 L254.72,651.68 L255.05,650.21 L255.38,648.75 L255.71,647.29 L256.05,645.82 L256.39,644.36 L256.73,642.90 L257.08,641.44 L257.43,639.98 L257.79,638.52 L258.14,637.07 L258.51,635.61 L258.87,634.15 L259.24,632.70 L259.62,631.24 L260.00,629.79 L260.38,628.34 L260.76,626.89 L261.16,625.44 L261.55,623.99 L261.95,622.54 L262.36,621.10 L262.77,619.65 L263.18,618.21 L263.60,616.77 L264.02,615.33 L264.45,613.89 L264.89,612.45 L265.33,611.01 L265.77,609.58 L266.22,608.14 L266.68,606.71 L267.15,605.29 L267.62,603.86 L268.10,602.44 L268.59,601.02 L269.08,599.61 L269.58,598.20 L270.10,596.79 L270.62,595.38 L271.14,593.99 L271.68,592.59 L272.23,591.20 L272.79,589.81 L273.36,588.43 L273.93,587.06 L274.52,585.69 L275.12,584.32 L275.73,582.96 L276.35,581.61 L276.99,580.26 L277.63,578.92 L278.29,577.59 L278.96,576.26 L279.64,574.94 L280.34,573.63 L281.05,572.32 L281.77,571.02 L282.51,569.73 L283.26,568.45 L284.02,567.17 L284.80,565.91 L285.60,564.65 L286.41,563.40 L287.23,562.16 L288.07,560.93 L288.93,559.70 L289.80,558.49 L290.69,557.29 L291.60,556.10 L292.52,554.91 L293.46,553.74 L294.42,552.58 L295.40,551.43 L296.39,550.29 L297.40,549.16 L298.42,548.04 L299.46,546.94 L300.51,545.84 L301.58,544.77 L302.67,543.70 L303.77,542.65 L304.88,541.61 L306.01,540.59 L307.15,539.58 L308.30,538.59 L309.47,537.61 L310.65,536.65 L311.84,535.71 L313.04,534.78 L314.26,533.87 L315.48,532.97 L316.72,532.10 L317.97,531.24 L319.23,530.40 L320.49,529.58 L321.77,528.78 L323.06,527.99 L324.35,527.23 L325.66,526.49 L326.97,525.77 L328.29,525.07 L329.62,524.39 L330.96,523.73 L332.30,523.09 L333.65,522.47 L335.01,521.88 L336.37,521.29 L337.74,520.73 L339.12,520.18 L340.50,519.65 L341.89,519.13 L343.28,518.62 L344.67,518.13 L346.07,517.64 L347.47,517.16 L348.88,516.70 L350.29,516.24 L351.70,515.78 L353.12,515.34 L354.53,514.89 L355.95,514.46 L357.38,514.02 L358.80,513.59 L360.23,513.17 L361.66,512.75 L363.09,512.33 L364.52,511.92 L365.96,511.52 L367.39,511.11 L368.83,510.71 L370.27,510.32 L371.72,509.93 L373.16,509.55 L374.61,509.16 L376.05,508.79 L377.50,508.41 L378.96,508.04 L380.41,507.68 L381.86,507.31 L383.32,506.95 L384.78,506.60 L386.23,506.25 L387.69,505.90 L389.16,505.56 L390.62,505.21 L392.08,504.88 L393.55,504.54 L395.01,504.21 L396.48,503.88 L397.95,503.56 L399.42,503.24 L400.89,502.92 L402.36,502.60 L403.83,502.29 L405.30,501.98 L406.77,501.67 L408.25,501.37 L409.72,501.07 L411.20,500.77 L412.67,500.47 L414.15,500.18 L415.62,499.89 L417.10,499.60 L418.58,499.31 L420.06,499.03 L421.53,498.74 L423.01,498.46 L424.49,498.19 L425.97,497.91 L427.45,497.64 L428.92,497.37 L430.40,497.10 L431.88,496.83 L433.36,496.57 L434.84,496.31 L436.32,496.05 L437.80,495.79 L439.28,495.53 L440.76,495.28 L442.24,495.02 L443.72,494.77 L445.21,494.53 L446.69,494.28 L448.17,494.04 L449.65,493.79 L451.13,493.55 L452.62,493.32 L454.10,493.08 L455.58,492.85 L457.06,492.61 L458.55,492.38 L460.03,492.15 L461.51,491.93 L463.00,491.70 L464.48,491.48 L465.96,491.26 L467.45,491.04 L468.93,490.82 L470.42,490.60 L471.90,490.39 L473.39,490.17 L474.87,489.96 L476.36,489.75 L477.84,489.55 L479.33,489.34 L480.82,489.14 L482.30,488.93 L483.79,488.73 L485.27,488.53 L486.76,488.33 L488.25,488.14 L489.73,487.94 L491.22,487.75 L492.71,487.56 L494.20,487.36 L495.68,487.18 L497.17,486.99 L498.66,486.80 L500.15,486.62 L501.64,486.43 L503.12,486.25 L504.61,486.07 L506.10,485.89 L507.59,485.71 L509.08,485.54 L510.57,485.36 L512.06,485.19 L513.55,485.02 L515.04,484.84 L516.53,484.67 L518.02,484.50 L519.51,484.34 L521.00,484.17 L522.49,484.01 L523.98,483.84 L525.47,483.68 L526.96,483.52 L528.45,483.36 L529.94,483.20 L531.43,483.04 L532.92,482.88 L534.41,482.72 L535.90,482.57 L537.39,482.41 L538.88,482.26 L540.38,482.11 L541.87,481.96 L543.36,481.81 L544.85,481.66 L546.34,481.51 L547.83,481.36 L549.33,481.21 L550.82,481.07 L552.31,480.92 L553.80,480.78 L555.30,480.64 L556.79,480.49 L558.28,480.35 L559.77,480.21 L561.27,480.07 L562.76,479.93 L564.25,479.80 L565.75,479.66 L567.24,479.52 L568.73,479.38 L570.22,479.25 L571.72,479.11 L573.21,478.98 L574.70,478.85 L576.20,478.71 L577.69,478.58 L579.19,478.45 L580.68,478.32 L582.17,478.19 L583.67,478.06 L585.16,477.93 L586.65,477.80 L588.15,477.67 L589.64,477.54 L591.14,477.41 L592.63,477.29 L594.12,477.16 L595.62,477.03 L597.11,476.91 L598.61,476.78 L600.10,476.66 L601.60,476.53 L603.09,476.41 L604.58,476.28 L606.08,476.16 L607.57,476.04 L609.07,475.91 L610.56,475.79 L612.06,475.67 L613.55,475.55 L615.05,475.42 L616.54,475.30 L618.03,475.18 L619.53,475.06 L621.02,474.94 L622.52,474.82 L624.01,474.69 L625.51,474.57 L627.00,474.45 L628.50,474.33 L629.99,474.21 L631.49,474.09 L632.98,473.97 L634.48,473.85 L635.97,473.73 L637.47,473.61 L638.96,473.49 L640.45,473.37 L641.95,473.26 L643.44,473.14 L644.94,473.02 L646.43,472.90 L647.93,472.78 L649.42,472.66 L650.92,472.55 L652.41,472.43 L653.91,472.31 L655.40,472.19 L656.90,472.08 L658.39,471.96 L659.89,471.84 L661.38,471.73 L662.88,471.61 L664.37,471.49 L665.87,471.38 L667.36,471.26 L668.86,471.14 L670.35,471.03 L671.85,470.91 L673.34,470.80 L674.84,470.68 L676.33,470.57 L677.83,470.45 L679.32,470.34 L680.82,470.22 L682.31,470.11 L683.81,469.99 L685.30,469.88 L686.80,469.77 L688.30,469.65 L689.79,469.54 L691.29,469.43 L692.78,469.31 L694.28,469.20 L695.77,469.09 L697.27,468.97 L698.76,468.86 L700.26,468.75 L701.75,468.64 L703.25,468.52 L704.74,468.41 L706.24,468.30 L707.73,468.19 L709.23,468.08 L710.73,467.96 L712.22,467.85 L713.72,467.74 L715.21,467.63 L716.71,467.52 L718.20,467.41 L719.70,467.30 L721.19,467.19 L722.69,467.08 L724.18,466.97 L725.68,466.86 L727.18,466.75 L728.67,466.64 L730.17,466.53 L731.66,466.42 L733.16,466.31 L734.65,466.20 L736.15,466.09 L737.64,465.98 L739.14,465.87 L740.64,465.76 L742.13,465.66 L743.63,465.55 L745.12,465.44 L746.62,465.33 L748.11,465.22 L749.61,465.11 L751.11,465.01 L752.60,464.90 L754.10,464.79 L755.59,464.68 L757.09,464.58 L758.58,464.47 L760.08,464.36 L761.58,464.26 L763.07,464.15 L764.57,464.04 L766.06,463.94 L767.56,463.83 L769.06,463.72 L770.55,463.62 L772.05,463.51 L773.54,463.40 L775.04,463.30 L776.53,463.19 L778.03,463.09 L779.53,462.98 L781.02,462.88 L782.52,462.77 L784.01,462.67 L785.51,462.56 L787.01,462.46 L788.50,462.35 L790.00,462.25 L791.49,462.14 L792.99,462.04 L794.49,461.93 L795.98,461.83 L797.48,461.73 L798.97,461.62 L800.47,461.52 L801.97,461.41 L803.46,461.31 L804.96,461.21 L806.46,461.10 L807.95,461.00 L809.45,460.90 L810.94,460.79 L812.44,460.69 L813.94,460.59 L815.43,460.48 L816.93,460.38 L818.42,460.28 L819.92,460.18 L821.42,460.07 L822.91,459.97 L824.41,459.87 L825.91,459.77 L827.40,459.66 L828.90,459.56 L830.39,459.46 L831.89,459.36 L833.39,459.26 L834.88,459.16 L836.38,459.05 L837.88,458.95 L839.37,458.85 L840.87,458.75 L842.36,458.65 L843.86,458.55 L845.36,458.45 L846.85,458.35 L848.35,458.24 L849.85,458.14 L851.34,458.04 L852.84,457.94 L854.34,457.84 L855.83,457.74 L857.33,457.64 L858.82,457.54 L860.32,457.44 L861.82,457.34 L863.31,457.24 L864.81,457.14 L866.31,457.04 L867.80,456.94 L869.30,456.84 L870.80,456.74 L872.29,456.64 L873.79,456.54 L875.29,456.44 L876.78,456.34 L878.28,456.24 L879.78,456.15 L881.27,456.05 L882.77,455.95 L884.27,455.85 L885.76,455.75 L887.26,455.65 L888.75,455.55 L890.25,455.45 L891.75,455.35 L893.24,455.26 L894.74,455.16 L896.24,455.06 L897.73,454.96 L899.23,454.86 L900.73,454.76 L902.22,454.67 L903.72,454.57 L905.22,454.47 L906.71,454.37 L908.21,454.27 L909.71,454.18 L911.20,454.08 L912.70,453.98 L914.20,453.88 L915.69,453.79 L917.19,453.69 L918.69,453.59 L920.18,453.49 L921.68,453.39 L923.18,453.30 L924.67,453.20 L926.17,453.10 L927.67,453.01 L929.16,452.91 L930.66,452.81 L932.16,452.71 L933.66,452.62 L935.15,452.52 L936.65,452.42 L938.15,452.33 L939.64,452.23 L941.14,452.13 L942.64,452.04 L944.13,451.94 L945.63,451.84 L947.13,451.75 L948.62,451.65 L950.12,451.55 L951.62,451.46 L953.11,451.36 L954.61,451.26 L956.11,451.17 L957.60,451.07 L959.10,450.97 L960.60,450.88 L962.09,450.78 L963.59,450.69 L965.09,450.59 L966.59,450.49 L968.08,450.40 L969.58,450.30 L971.08,450.21 L972.57,450.11 L974.07,450.01 L975.57,449.92 L977.06,449.82 L978.56,449.73 L980.06,449.63 L981.55,449.53 L983.05,449.44 L984.55,449.34 L986.05,449.25 L987.54,449.15 L989.04,449.06 L990.54,448.96 L992.03,448.86 L993.53,448.77 L995.03,448.67 L996.52,448.58 L998.02,448.48 L999.52,448.39 L1001.02,448.29 L1002.51,448.20 L1004.01,448.10 L1005.51,448.00 L1007.00,447.91 L1008.50,447.81 L1010.00,447.72 L1011.49,447.62 L1012.99,447.53 L1014.49,447.43 L1015.99,447.34 L1017.48,447.24 L1018.98,447.15 L1020.48,447.05 L1021.97,446.96 L1023.47,446.86 L1024.97,446.76 L1026.46,446.67 L1027.96,446.57 L1029.46,446.48 L1030.96,446.38 L1032.45,446.29 L1033.95,446.19 L1035.45,446.10 L1036.94,446.00 L1038.44,445.91 L1039.94,445.81 L1041.43,445.72 L1042.93,445.62 L1044.43,445.53 L1045.93,445.43 L1047.42,445.34 L1048.92,445.24 L1050.42,445.14 L1051.91,445.05 L1053.41,444.95 L1054.91,444.86 L1056.41,444.76 L1057.90,444.67 L1059.40,444.57 L1060.90,444.48 L1062.39,444.38 L1063.89,444.29 L1065.39,444.19 L1066.89,444.10 L1068.38,444.00 L1069.88,443.91 L1071.38,443.81 L1072.87,443.72 L1074.37,443.62 L1075.87,443.52 L1077.37,443.43 L1078.86,443.33 L1080.36,443.24 L1081.86,443.14 L1083.35,443.05 L1084.85,442.95 L1086.35,442.86 L1087.85,442.76 L1089.34,442.66 L1090.84,442.57 L1092.34,442.47 L1093.83,442.38 L1095.33,442.28 L1096.83,442.19 L1098.33,442.09 L1099.82,442.00 L1101.32,441.90 L1102.82,441.80 L1104.31,441.71 L1105.81,441.61 L1107.31,441.52 L1108.81,441.42 L1110.30,441.32 L1111.80,441.23 L1113.30,441.13 L1114.79,441.04 L1116.29,440.94 L1117.79,440.84 L1119.29,440.75 L1120.78,440.65 L1122.28,440.56 L1123.78,440.46 L1125.27,440.36 L1126.77,440.27 L1128.27,440.17 L1129.77,440.07 L1131.26,439.98 L1132.76,439.88 L1134.26,439.79 L1135.75,439.69 L1137.25,439.59 L1138.75,439.50 L1140.25,439.40 L1141.74,439.30 L1143.24,439.21 L1144.74,439.11 L1146.23,439.01 L1147.73,438.92 L1149.23,438.82 L1150.73,438.72 L1152.22,438.63 L1153.72,438.53 L1155.22,438.44 L1156.71,438.34 L1158.21,438.24 L1159.71,438.15 L1161.21,438.05 L1162.70,437.95 L1164.20,437.86 L1165.70,437.76 L1167.19,437.67 L1168.69,437.57 L1170.19,437.47 L1171.69,437.38 L1173.18,437.28 L1174.68,437.19 L1176.18,437.09 L1177.67,437.00 L1179.17,436.90 L1180.67,436.81 L1182.17,436.71 L1183.66,436.62 L1185.16,436.52 L1186.66,436.43 L1188.16,436.33 L1189.65,436.24 L1191.15,436.14 L1192.65,436.05 L1194.14,435.95 L1195.64,435.86 L1197.14,435.76 L1198.64,435.67 L1200.13,435.58 L1201.63,435.48 L1203.13,435.39 L1204.63,435.29 L1206.12,435.20 L1207.62,435.11 L1209.12,435.01 L1210.61,434.92 L1212.11,434.83 L1213.61,434.74 L1215.11,434.64 L1216.60,434.55 L1218.10,434.46 L1219.60,434.37 L1221.10,434.27 L1222.59,434.18 L1224.09,434.09 L1225.59,434.00 L1227.08,433.91 L1228.58,433.82 L1230.08,433.73 L1231.58,433.64 L1233.07,433.55 L1234.57,433.46 L1236.07,433.37 L1237.57,433.28 L1239.06,433.19 L1240.56,433.10 L1242.06,433.01 L1243.56,432.92 L1245.05,432.83 L1246.55,432.74 L1248.05,432.65 L1249.55,432.57 L1251.04,432.48 L1252.54,432.39 L1254.04,432.30 L1255.54,432.22 L1257.03,432.13 L1258.53,432.04 L1260.03,431.96 L1261.53,431.87 L1263.02,431.79 L1264.52,431.70 L1266.02,431.62 L1267.52,431.53 L1269.01,431.45 L1270.51,431.36 L1272.01,431.28 L1273.51,431.19 L1275.00,431.11 L1276.50,431.03 L1278.00,430.94 L1279.50,430.86 L1280.99,430.78 L1282.49,430.70 L1283.99,430.62 L1285.49,430.53 L1286.98,430.45 L1288.48,430.37 L1289.98,430.29 L1291.48,430.21 L1292.97,430.13 L1294.47,430.05 L1295.97,429.97 L1297.47,429.89 L1298.96,429.82 L1300.46,429.74 L1301.96,429.66 L1303.46,429.58 L1304.96,429.51 L1306.45,429.43 L1307.95,429.35 L1309.45,429.28 L1310.95,429.20 L1312.44,429.13 L1313.94,429.05 L1315.44,428.98 L1316.94,428.90 L1318.44,428.83 L1319.93,428.76 L1321.43,428.68 L1322.93,428.61 L1324.43,428.54 L1325.92,428.47 L1327.42,428.39 L1328.92,428.32 L1330.42,428.25 L1331.92,428.18 L1333.41,428.11 L1334.91,428.04 L1336.41,427.98 L1337.91,427.91 L1339.41,427.84 L1340.90,427.77 L1342.40,427.70 L1343.90,427.64 L1345.40,427.57 L1346.90,427.51 L1348.39,427.44 L1349.89,427.38 L1351.39,427.31 L1352.89,427.25 L1354.39,427.18 L1355.88,427.12 L1357.38,427.06 L1358.88,427.00 L1360.38,426.93 L1361.88,426.87 L1363.37,426.81 L1364.87,426.75 L1366.37,426.69 L1367.87,426.63 L1369.37,426.58 L1370.87,426.52 L1372.36,426.46 L1373.86,426.40 L1375.36,426.35 L1376.86,426.29 L1378.36,426.23 L1379.85,426.18 L1381.35,426.12 L1382.85,426.07 L1384.35,426.02 L1385.85,425.96 L1387.35,425.91 L1388.84,425.86 L1390.34,425.81 L1391.84,425.76 L1393.34,425.71 L1394.84,425.66 L1396.34,425.61 L1397.84,425.56 L1399.33,425.51 L1400.83,425.46 L1402.33,425.42 L1403.83,425.37 L1405.33,425.32 L1406.83,425.28 L1408.32,425.23 L1409.82,425.19 L1411.32,425.15 L1412.82,425.10 L1414.32,425.06 L1415.82,425.02 L1417.32,424.98 L1418.81,424.94 L1420.31,424.90 L1421.81,424.86 L1423.31,424.82 L1424.81,424.78 L1426.31,424.74 L1427.81,424.71 L1429.31,424.67 L1430.80,424.64 L1432.30,424.60 L1433.80,424.57 L1435.30,424.53 L1436.80,424.50 L1438.30,424.47 L1439.80,424.44 L1441.30,424.40 L1442.79,424.37 L1444.29,424.34 L1445.79,424.31 L1447.29,424.29 L1448.79,424.26 L1450.29,424.23 L1451.79,424.21 L1453.29,424.18 L1454.79,424.15 L1456.29,424.13 L1457.78,424.11 L1459.28,424.08 L1460.78,424.06 L1462.28,424.04 L1463.78,424.02 L1465.28,424.00 L1466.78,423.98 L1468.28,423.96 L1469.78,423.94 L1471.28,423.92 L1472.78,423.91 L1474.28,423.89 L1475.77,423.88 L1477.27,423.86 L1478.77,423.85 L1480.27,423.84 L1481.77,423.82 L1483.27,423.81 L1484.77,423.80 L1486.27,423.79 L1487.77,423.78 L1489.27,423.77 L1490.77,423.77 L1492.27,423.76 L1493.77,423.75 L1495.27,423.75 L1496.77,423.74 L1498.27,423.74 L1499.77,423.74 L1501.26,423.73 L1502.76,423.73 L1504.26,423.73 L1505.76,423.73 L1507.26,423.73 L1508.76,423.73 L1510.26,423.74 L1511.76,423.74 L1513.26,423.74 L1514.76,423.75 L1516.26,423.75 L1517.76,423.76 L1519.26,423.77 L1520.76,423.78 L1522.26,423.78 L1523.76,423.79 L1525.26,423.80 L1526.76,423.82 L1528.26,423.83 L1529.76,423.84 L1531.26,423.86 L1532.76,423.87 L1534.26,423.89 L1535.76,423.90 L1537.26,423.92 L1538.76,423.94 L1540.26,423.96 L1541.76,423.98 L1543.26,424.00 L1544.76,424.02 L1546.26,424.04 L1547.76,424.07 L1549.26,424.09 L1550.76,424.12 L1552.26,424.14 L1553.76,424.17 L1555.26,424.20 L1556.76,424.23 L1558.26,424.26 L1559.76,424.29 L1561.26,424.32 L1562.76,424.35 L1564.27,424.39 L1565.77,424.42 L1567.27,424.46 L1568.77,424.49 L1570.27,424.53 L1571.77,424.57 L1573.27,424.61 L1574.77,424.65 L1576.27,424.69 L1577.77,424.73 L1579.27,424.77 L1580.77,424.82 L1582.27,424.86 L1583.77,424.91 L1585.27,424.95 L1586.77,425.00 L1588.28,425.05 L1589.78,425.10 L1591.28,425.15 L1592.78,425.20 L1594.28,425.25 L1595.78,425.31 L1597.28,425.36 L1598.78,425.42 L1600.28,425.47 L1601.78,425.53 L1603.29,425.59 L1604.79,425.65 L1606.29,425.71 L1607.79,425.77 L1609.29,425.83" stroke="#8a08f0" stroke-width="5.4" stroke-dashoffset="-3.7"/>
</g></g>
</g>
<path d="M229.5,41.0 V1099.0 M1787.5,41.0 V1099.0 M227.5,43.0 H1789.5 M227.5,1097.0 H1789.5" stroke="#000" stroke-width="4.0" fill="none"/>
<path d="M205,43.00 H229.5 M205,190.90 H229.5 M205,338.80 H229.5 M205,486.70 H229.5 M217.5,116.95 H229.5 M217.5,264.85 H229.5 M217.5,412.75 H229.5 M217.5,560.65 H229.5 M205,708.80 H229.5 M205,838.20 H229.5 M205,967.60 H229.5 M205,1097.00 H229.5 M217.5,644.10 H229.5 M217.5,773.50 H229.5 M217.5,902.90 H229.5 M217.5,1032.30 H229.5 M1787.5,183.50 H1812 M1787.5,356.70 H1812 M1787.5,529.90 H1812 M1787.5,703.10 H1812 M1787.5,96.90 H1800.5 M1787.5,270.10 H1800.5 M1787.5,443.30 H1800.5 M1787.5,616.50 H1800.5 M1787.5,815.60 H1812 M1787.5,943.90 H1812 M1787.5,1072.20 H1812 M1787.5,881.00 H1800.5 M1787.5,1009.00 H1800.5 M301.08,43.0 V54.5 M301.08,1097.0 V1108.5 M420.80,43.0 V64.0 M420.80,1097.0 V1118.0 M540.52,43.0 V54.5 M540.52,1097.0 V1108.5 M660.24,43.0 V64.0 M660.24,1097.0 V1118.0 M779.96,43.0 V54.5 M779.96,1097.0 V1108.5 M899.68,43.0 V64.0 M899.68,1097.0 V1118.0 M1019.40,43.0 V54.5 M1019.40,1097.0 V1108.5 M1139.12,43.0 V64.0 M1139.12,1097.0 V1118.0 M1258.84,43.0 V54.5 M1258.84,1097.0 V1108.5 M1378.56,43.0 V64.0 M1378.56,1097.0 V1118.0 M1498.28,43.0 V54.5 M1498.28,1097.0 V1108.5 M1618.00,43.0 V64.0 M1618.00,1097.0 V1118.0 M1737.72,43.0 V54.5 M1737.72,1097.0 V1108.5" stroke="#000" stroke-width="3.6" fill="none"/>
<polygon points="205.8,568.4 253.2,550.4 253.2,570.8 205.8,589.0" fill="#fff"/><path d="M205.8,569.4 L253.2,551.4 M205.8,588.0 L253.2,569.8" stroke="#000" stroke-width="3.1"/>
<polygon points="1763.5,781.6 1812,762.9 1812,783.2 1763.5,802.0" fill="#fff"/><path d="M1763.5,782.6 L1812,763.9 M1763.5,801.0 L1812,782.2" stroke="#000" stroke-width="3.1"/>
<path d="M546,149 V112 H309" stroke="#767073" stroke-width="6" fill="none"/>
<polygon points="295.8,112 313.2,99.2 311.2,112 313.2,124.8" fill="#767073"/>
<path d="M1426,385.5 V320 H1714" stroke="#767073" stroke-width="6" fill="none"/>
<polygon points="1727,320 1708.4,305.6 1711.9,320 1708.4,334.2" fill="#767073"/>
<g font-family='"Liberation Sans", Arial, sans-serif'>
<text transform="translate(126.74,58.19) scale(0.5700,0.5330)" font-size="100" font-weight="bold" font-style="normal" fill="#000" >70</text>
<text transform="translate(126.74,206.09) scale(0.5700,0.5330)" font-size="100" font-weight="bold" font-style="normal" fill="#000" >60</text>
<text transform="translate(126.74,353.99) scale(0.5700,0.5330)" font-size="100" font-weight="bold" font-style="normal" fill="#000" >50</text>
<text transform="translate(126.74,501.89) scale(0.5700,0.5330)" font-size="100" font-weight="bold" font-style="normal" fill="#000" >40</text>
<text transform="translate(158.66,723.99) scale(0.5700,0.5330)" font-size="100" font-weight="bold" font-style="normal" fill="#000" >0</text>
<text transform="translate(107.93,853.39) scale(0.5700,0.5330)" font-size="100" font-weight="bold" font-style="normal" fill="#000" >-10</text>
<text transform="translate(107.93,982.79) scale(0.5700,0.5330)" font-size="100" font-weight="bold" font-style="normal" fill="#000" >-20</text>
<text transform="translate(107.93,1112.19) scale(0.5700,0.5330)" font-size="100" font-weight="bold" font-style="normal" fill="#000" >-30</text>
<text transform="translate(1824.52,197.92) scale(0.5600,0.5050)" font-size="100" font-weight="bold" font-style="normal" fill="#000" >95</text>
<text transform="translate(1824.52,371.12) scale(0.5600,0.5050)" font-size="100" font-weight="bold" font-style="normal" fill="#000" >90</text>
<text transform="translate(1824.52,544.32) scale(0.5600,0.5050)" font-size="100" font-weight="bold" font-style="normal" fill="#000" >85</text>
<text transform="translate(1824.52,717.52) scale(0.5600,0.5050)" font-size="100" font-weight="bold" font-style="normal" fill="#000" >80</text>
<text transform="translate(1825.64,830.02) scale(0.5600,0.5050)" font-size="100" font-weight="bold" font-style="normal" fill="#000" >40</text>
<text transform="translate(1825.08,958.32) scale(0.5600,0.5050)" font-size="100" font-weight="bold" font-style="normal" fill="#000" >35</text>
<text transform="translate(1825.08,1086.62) scale(0.5600,0.5050)" font-size="100" font-weight="bold" font-style="normal" fill="#000" >30</text>
<text transform="translate(356.64,1172.40) scale(0.5780,0.5400)" font-size="100" font-weight="bold" font-style="normal" fill="#000" >2000</text>
<text transform="translate(596.66,1172.40) scale(0.5780,0.5400)" font-size="100" font-weight="bold" font-style="normal" fill="#000" >4000</text>
<text transform="translate(835.23,1172.40) scale(0.5780,0.5400)" font-size="100" font-weight="bold" font-style="normal" fill="#000" >6000</text>
<text transform="translate(1074.96,1172.40) scale(0.5780,0.5400)" font-size="100" font-weight="bold" font-style="normal" fill="#000" >8000</text>
<text transform="translate(1297.64,1172.40) scale(0.5780,0.5400)" font-size="100" font-weight="bold" font-style="normal" fill="#000" >10000</text>
<text transform="translate(1537.08,1172.40) scale(0.5780,0.5400)" font-size="100" font-weight="bold" font-style="normal" fill="#000" >12000</text>
<text transform="translate(654.22,1253.90) scale(0.6832,0.6478)" font-size="100" font-weight="bold" font-style="normal" fill="#000" >Molecular weight (Da)</text>
<text transform="translate(65.60,655.70) rotate(-90) scale(0.4590,0.5855)" font-size="100" font-weight="bold" font-style="italic">T</text>
<text transform="translate(92.90,627.60) rotate(-90) scale(0.5010,0.5407)" font-size="100" font-weight="bold" font-style="normal">m</text>
<text transform="translate(64.51,566.96) rotate(-90) scale(0.4718,0.5946)" font-size="100" font-weight="bold" font-style="normal">(°C)</text>
<text transform="translate(1961.90,667.60) rotate(-90) scale(0.6640,0.7116)" font-size="100" font-weight="bold" font-style="italic">X</text>
<text transform="translate(1990.36,626.45) rotate(-90) scale(0.6120,0.6436)" font-size="100" font-weight="bold" font-style="normal">c</text>
<text transform="translate(1961.85,572.50) rotate(-90) scale(0.6412,0.6785)" font-size="100" font-weight="bold" font-style="normal">(%)</text>
<path d="M1088,723.5 H1115.6 M1135,723.5 H1162.5 M1181.7,723.5 H1209.7" stroke="#2222d2" stroke-width="6.3"/>
<path d="M1088,794.9 H1115.6 M1135,794.9 H1162.5 M1181.7,794.9 H1209.7" stroke="#000" stroke-width="6.3"/>
<path d="M1088,863.9 H1115.6 M1135,863.9 H1162.5 M1181.7,863.9 H1209.7" stroke="#ff0a0a" stroke-width="6.3"/>
<text transform="translate(1269.59,742.00) scale(0.5950,0.5620)" font-size="100" font-weight="bold"><tspan font-style="italic">neutral</tspan></text>
<text transform="translate(1483.46,742.00) scale(0.6060,0.5730)" font-size="100" font-weight="bold" font-style="normal" fill="#000" >PEG</text>
<text transform="translate(1266.85,809.70) scale(0.6215,0.5930)" font-size="100" font-weight="bold" font-style="normal" fill="#000" >mPEG-N</text>
<text transform="translate(1517.44,821.04) scale(0.3894,0.3592)" font-size="100" font-weight="normal" font-style="normal" fill="#000" stroke="#000" stroke-width="2.2">3</text>
<text transform="translate(1266.16,885.10) scale(0.6060,0.5860)" font-size="100" font-weight="bold" font-style="normal" fill="#000" >N</text>
<text transform="translate(1311.84,896.64) scale(0.3894,0.3592)" font-size="100" font-weight="normal" font-style="normal" fill="#000" stroke="#000" stroke-width="2.2">3</text>
<text transform="translate(1333.28,885.10) scale(0.6060,0.5860)" font-size="100" font-weight="bold" font-style="normal" fill="#000" >-PEG-N</text>
<text transform="translate(1546.84,896.64) scale(0.3894,0.3592)" font-size="100" font-weight="normal" font-style="normal" fill="#000" stroke="#000" stroke-width="2.2">3</text>
</g>
</svg>
</body></html>
